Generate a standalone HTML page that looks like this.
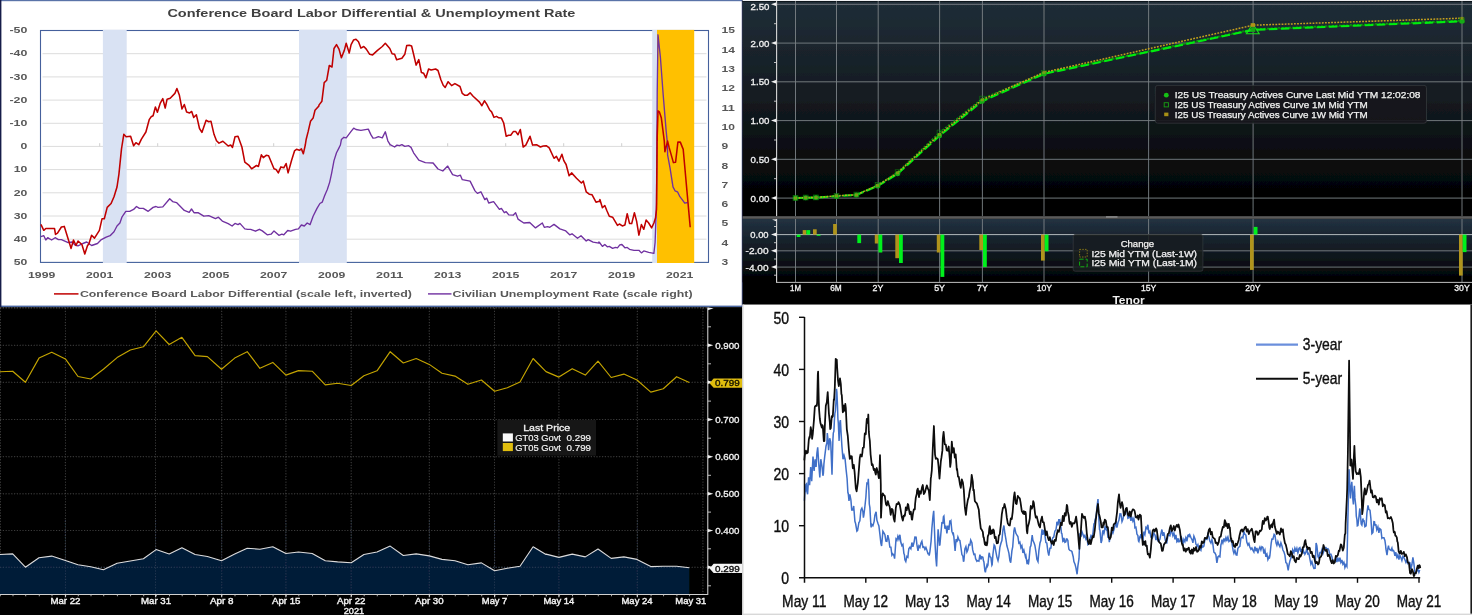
<!DOCTYPE html>
<html><head><meta charset="utf-8"><title>charts</title>
<style>
html,body{margin:0;padding:0;background:#fff;}
body{width:1472px;height:615px;overflow:hidden;font-family:"Liberation Sans",sans-serif;}
svg{display:block;position:absolute;left:0;top:0;}
text{font-family:"Liberation Sans",sans-serif;}
</style></head><body>
<svg width="1472" height="615" viewBox="0 0 1472 615">
<defs>
<linearGradient id="g2a" x1="0" y1="0" x2="0" y2="1"><stop offset="0" stop-color="#202e38"/><stop offset="0.45" stop-color="#141b21"/><stop offset="0.85" stop-color="#050607"/><stop offset="1" stop-color="#000"/></linearGradient>
<linearGradient id="g2b" x1="0" y1="0" x2="0" y2="1"><stop offset="0" stop-color="#223241"/><stop offset="0.5" stop-color="#121a22"/><stop offset="1" stop-color="#000"/></linearGradient>
<filter id="bl" x="-2" y="-2" width="1476" height="619" filterUnits="userSpaceOnUse"><feGaussianBlur stdDeviation="0.55" edgeMode="duplicate"/></filter>
<linearGradient id="g4l" x1="0" y1="0" x2="1" y2="0"><stop offset="0" stop-color="#c8c8c8"/><stop offset="1" stop-color="#fff"/></linearGradient>
</defs>
<g filter="url(#bl)">
<rect x="-4" y="-4" width="1480" height="623" fill="#fff"/>

<g id="c1">
<rect x="0" y="0" width="743" height="307" fill="#fff"/>
<line x1="42.5" y1="53.7" x2="706.5" y2="53.7" stroke="#dcdcdc" stroke-width="1"/>
<line x1="42.5" y1="76.9" x2="706.5" y2="76.9" stroke="#dcdcdc" stroke-width="1"/>
<line x1="42.5" y1="100.1" x2="706.5" y2="100.1" stroke="#dcdcdc" stroke-width="1"/>
<line x1="42.5" y1="123.3" x2="706.5" y2="123.3" stroke="#dcdcdc" stroke-width="1"/>
<line x1="42.5" y1="146.4" x2="706.5" y2="146.4" stroke="#dcdcdc" stroke-width="1"/>
<line x1="42.5" y1="169.6" x2="706.5" y2="169.6" stroke="#dcdcdc" stroke-width="1"/>
<line x1="42.5" y1="192.8" x2="706.5" y2="192.8" stroke="#dcdcdc" stroke-width="1"/>
<line x1="42.5" y1="216.0" x2="706.5" y2="216.0" stroke="#dcdcdc" stroke-width="1"/>
<line x1="42.5" y1="239.2" x2="706.5" y2="239.2" stroke="#dcdcdc" stroke-width="1"/>
<rect x="40.5" y="30.5" width="668.0" height="231.89999999999998" fill="none" stroke="#44609c" stroke-width="1.1"/>
<line x1="99.7" y1="143.2" x2="99.7" y2="146.4" stroke="#cfcfcf" stroke-width="1"/>
<line x1="157.7" y1="143.2" x2="157.7" y2="146.4" stroke="#cfcfcf" stroke-width="1"/>
<line x1="215.7" y1="143.2" x2="215.7" y2="146.4" stroke="#cfcfcf" stroke-width="1"/>
<line x1="273.7" y1="143.2" x2="273.7" y2="146.4" stroke="#cfcfcf" stroke-width="1"/>
<line x1="331.7" y1="143.2" x2="331.7" y2="146.4" stroke="#cfcfcf" stroke-width="1"/>
<line x1="389.7" y1="143.2" x2="389.7" y2="146.4" stroke="#cfcfcf" stroke-width="1"/>
<line x1="447.7" y1="143.2" x2="447.7" y2="146.4" stroke="#cfcfcf" stroke-width="1"/>
<line x1="505.7" y1="143.2" x2="505.7" y2="146.4" stroke="#cfcfcf" stroke-width="1"/>
<line x1="563.7" y1="143.2" x2="563.7" y2="146.4" stroke="#cfcfcf" stroke-width="1"/>
<line x1="621.7" y1="143.2" x2="621.7" y2="146.4" stroke="#cfcfcf" stroke-width="1"/>
<line x1="679.7" y1="143.2" x2="679.7" y2="146.4" stroke="#cfcfcf" stroke-width="1"/>
<rect x="102.9" y="29.9" width="23.8" height="233.1" fill="#d9e2f3"/>
<rect x="299" y="29.9" width="47.8" height="233.1" fill="#d9e2f3"/>
<rect x="652.2" y="29.9" width="5.0" height="233.1" fill="#d9e2f3"/>
<rect x="657" y="29.9" width="37.2" height="233.1" fill="#ffc000"/>
<path d="M40.9,236.7 L43.8,235.7 L45.8,240.0 L47.7,237.7 L51.6,240.0 L55.1,237.7 L58.4,239.6 L61.4,239.6 L68.2,242.6 L72.1,242.0 L75.0,245.1 L78.0,245.9 L82.8,243.5 L86.7,242.0 L91.6,245.5 L97.5,243.5 L101.4,239.6 L106.2,237.1 L110.1,235.7 L114.0,231.8 L117.0,226.0 L119.9,223.0 L121.9,217.2 L125.8,211.3 L129.7,211.3 L133.6,209.4 L136.5,206.5 L139.4,208.4 L143.3,208.4 L148.2,211.3 L153.1,207.4 L156.0,206.5 L158.0,207.4 L162.8,206.9 L169.7,198.7 L172.6,201.6 L176.5,202.6 L184.3,210.4 L189.2,212.3 L191.5,209.0 L194.0,212.7 L198.0,212.7 L203.8,216.2 L208.7,215.6 L215.5,218.6 L218.4,217.2 L222.3,221.1 L228.2,223.6 L232.1,226.0 L235.0,223.4 L238.0,224.6 L239.9,223.4 L244.8,228.9 L247.7,229.3 L250.6,229.3 L255.5,231.2 L259.4,229.3 L262.3,230.9 L267.2,234.8 L271.1,234.2 L274.0,230.9 L278.9,235.3 L281.9,234.2 L283.8,234.8 L287.7,230.5 L290.6,231.2 L295.5,229.3 L298.4,228.9 L301.4,225.0 L304.3,226.0 L307.2,223.0 L310.1,224.6 L313.1,216.2 L317.0,208.4 L319.9,203.5 L322.2,202.2 L324.8,195.3 L327.3,189.5 L329.7,182.1 L331.6,173.3 L334.0,160.6 L336.5,152.8 L339.0,147.9 L340.4,145.0 L341.4,139.6 L343.9,137.3 L346.2,137.9 L351.1,131.4 L353.7,128.1 L356.0,129.5 L360.9,130.4 L368.3,129.1 L371.0,134.9 L373.0,138.2 L375.5,137.9 L378.4,136.7 L382.3,137.9 L385.3,131.8 L387.8,140.8 L390.1,144.7 L394.6,147.0 L397.0,145.1 L399.5,145.7 L401.9,144.7 L404.8,146.4 L408.7,145.7 L411.0,147.4 L413.6,152.8 L418.8,160.2 L425.3,162.6 L433.1,163.0 L438.0,169.0 L442.8,171.0 L447.7,166.1 L452.6,174.7 L457.5,176.2 L460.4,175.2 L462.3,179.7 L470.1,181.1 L475.0,190.9 L477.4,193.4 L480.9,191.8 L484.8,199.6 L486.7,198.1 L488.7,203.0 L493.6,201.6 L499.4,209.4 L501.4,208.4 L504.3,212.7 L506.2,211.7 L508.8,214.9 L513.1,215.2 L515.6,212.7 L518.0,219.1 L523.8,223.0 L529.7,222.5 L535.5,227.9 L542.3,223.0 L544.3,227.3 L547.6,226.6 L549.8,227.3 L554.0,224.4 L559.9,228.9 L565.8,230.9 L569.7,234.8 L572.0,233.8 L577.5,238.3 L581.0,235.7 L586.2,241.0 L588.2,239.6 L593.1,242.2 L598.9,243.1 L598.9,241.9 L599.5,242.5 L602.4,246.4 L604.8,244.5 L607.3,246.8 L609.3,246.4 L612.6,248.4 L615.5,247.4 L617.5,247.8 L619.8,244.9 L621.9,244.5 L624.9,247.8 L627.2,247.4 L629.5,249.3 L634.0,250.3 L638.9,250.3 L641.4,252.9 L643.8,250.9 L648.7,252.3 L653.9,253.3 L655.1,242.5 L656.5,203.5 L657.2,92.4 L658.0,34.8 L660.4,57.3 L663.3,96.3 L666.2,131.4 L667.4,143.1 L667.6,154.8 L670.1,168.4 L673.0,186.9 L675.0,190.8 L677.5,191.8 L679.9,196.7 L682.2,199.6 L684.7,203.1 L687.7,202.5" fill="none" stroke="#7030a0" stroke-width="1.35" stroke-linejoin="round"/>
<path d="M40.9,224.4 L43.8,230.3 L45.8,228.5 L54.5,228.5 L55.5,234.4 L57.5,233.2 L61.4,227.0 L64.3,226.4 L71.1,248.4 L73.5,240.0 L76.0,245.5 L78.0,241.0 L81.9,244.5 L84.8,253.9 L87.7,245.1 L88.7,244.5 L91.6,235.3 L94.5,238.1 L99.4,230.3 L102.0,218.8 L104.3,218.8 L107.2,207.4 L111.1,203.5 L114.0,196.7 L117.0,187.0 L118.9,174.3 L120.3,160.6 L121.5,148.9 L123.8,134.3 L126.1,136.7 L130.6,136.3 L133.6,145.7 L135.9,142.7 L138.8,144.7 L141.4,139.2 L145.9,132.0 L149.2,119.7 L151.1,116.8 L153.1,115.8 L155.4,107.0 L157.4,112.3 L160.3,103.1 L162.8,98.6 L165.2,108.0 L167.1,99.2 L170.2,98.2 L174.9,93.4 L176.9,88.5 L179.4,95.3 L182.0,109.0 L184.3,104.5 L186.6,111.9 L189.6,112.9 L191.7,111.5 L193.7,117.4 L196.4,114.8 L199.5,128.5 L201.9,132.4 L206.1,120.3 L208.7,121.7 L211.0,121.3 L214.0,134.3 L216.5,140.8 L219.0,143.1 L222.9,141.2 L228.2,146.0 L230.7,145.1 L232.5,147.4 L235.0,136.7 L238.0,136.3 L241.9,147.0 L244.8,162.2 L248.7,165.1 L251.6,168.8 L256.5,165.5 L258.4,166.5 L261.4,154.8 L263.3,157.7 L266.2,155.3 L268.6,155.7 L274.0,168.8 L276.0,169.4 L278.3,172.9 L280.9,166.9 L283.8,167.8 L286.1,163.5 L288.1,172.9 L291.6,160.2 L294.5,150.9 L296.5,149.3 L299.4,150.3 L301.4,148.9 L303.3,153.8 L305.3,145.0 L306.2,139.2 L308.2,131.4 L310.5,121.3 L313.1,118.1 L315.0,110.3 L318.9,106.0 L318.9,105.1 L321.9,101.2 L324.2,82.6 L326.7,80.3 L329.3,65.5 L332.0,67.0 L334.0,48.5 L336.5,44.6 L339.0,49.1 L341.4,57.7 L344.3,50.4 L346.2,43.2 L349.2,53.0 L351.1,44.6 L353.5,40.1 L356.0,39.3 L358.5,41.7 L360.9,48.1 L363.8,46.5 L366.3,49.1 L369.7,54.3 L372.6,54.9 L377.5,50.4 L382.3,46.5 L385.3,43.2 L389.8,48.5 L392.1,53.8 L394.6,54.3 L396.6,59.8 L401.9,58.2 L404.8,54.3 L406.7,45.6 L409.3,45.2 L411.6,46.0 L413.6,54.3 L416.1,65.1 L418.8,59.6 L421.4,72.5 L423.7,73.3 L425.9,77.8 L428.6,69.0 L431.1,70.0 L435.6,69.0 L438.0,70.5 L440.9,79.7 L443.2,85.2 L445.2,87.5 L448.1,81.7 L451.6,85.6 L454.9,83.6 L460.0,86.5 L462.3,93.4 L464.9,95.3 L467.2,95.3 L470.1,92.8 L473.1,96.3 L479.5,102.1 L481.9,105.7 L484.4,100.8 L486.7,104.1 L489.7,110.0 L491.6,111.9 L494.0,117.4 L496.5,116.4 L498.8,117.8 L501.4,118.1 L503.7,123.0 L506.2,136.3 L508.6,135.3 L510.7,135.3 L513.5,131.4 L515.6,131.4 L518.0,134.7 L520.3,129.5 L523.2,147.0 L525.8,145.1 L530.0,136.3 L532.6,145.1 L536.5,144.7 L540.4,147.0 L543.3,146.0 L546.2,145.7 L549.2,147.9 L554.0,158.3 L556.4,156.3 L558.9,161.2 L561.9,154.2 L563.8,160.6 L566.1,164.5 L569.1,175.8 L571.6,172.9 L576.5,178.2 L581.4,183.0 L583.3,181.1 L586.2,191.8 L589.2,194.2 L592.1,194.8 L596.0,202.2 L599.9,201.0 L599.9,201.6 L599.9,201.2 L599.9,199.6 L602.4,207.8 L604.8,205.5 L606.7,210.3 L609.3,216.2 L612.6,217.2 L617.5,225.4 L619.4,224.0 L622.3,225.9 L624.9,225.0 L627.2,213.7 L629.5,223.4 L631.7,223.6 L634.4,212.7 L636.6,221.1 L638.9,235.1 L641.4,224.6 L643.8,229.3 L646.1,220.1 L648.7,223.0 L651.6,227.9 L653.9,223.0 L655.5,218.1 L656.5,209.4 L657.2,137.2 L658.0,110.9 L659.4,111.9 L661.3,117.7 L664.3,141.1 L664.9,151.8 L667.6,141.1 L669.1,147.4 L673.4,162.6 L675.6,162.2 L677.9,142.1 L680.3,142.1 L682.4,147.4 L683.2,149.3 L690.2,227.3" fill="none" stroke="#c00000" stroke-width="1.55" stroke-linejoin="round"/>
<text x="27.3" y="33.2" font-size="8.6" fill="#595959" text-anchor="end" font-weight="bold" textLength="17.9" lengthAdjust="spacingAndGlyphs" >-50</text>
<text x="27.3" y="56.4" font-size="8.6" fill="#595959" text-anchor="end" font-weight="bold" textLength="17.9" lengthAdjust="spacingAndGlyphs" >-40</text>
<text x="27.3" y="79.6" font-size="8.6" fill="#595959" text-anchor="end" font-weight="bold" textLength="17.9" lengthAdjust="spacingAndGlyphs" >-30</text>
<text x="27.3" y="102.8" font-size="8.6" fill="#595959" text-anchor="end" font-weight="bold" textLength="17.9" lengthAdjust="spacingAndGlyphs" >-20</text>
<text x="27.3" y="126.0" font-size="8.6" fill="#595959" text-anchor="end" font-weight="bold" textLength="17.9" lengthAdjust="spacingAndGlyphs" >-10</text>
<text x="27.3" y="149.1" font-size="8.6" fill="#595959" text-anchor="end" font-weight="bold" textLength="6.8" lengthAdjust="spacingAndGlyphs" >0</text>
<text x="27.3" y="172.3" font-size="8.6" fill="#595959" text-anchor="end" font-weight="bold" textLength="13.6" lengthAdjust="spacingAndGlyphs" >10</text>
<text x="27.3" y="195.5" font-size="8.6" fill="#595959" text-anchor="end" font-weight="bold" textLength="13.6" lengthAdjust="spacingAndGlyphs" >20</text>
<text x="27.3" y="218.7" font-size="8.6" fill="#595959" text-anchor="end" font-weight="bold" textLength="13.6" lengthAdjust="spacingAndGlyphs" >30</text>
<text x="27.3" y="241.9" font-size="8.6" fill="#595959" text-anchor="end" font-weight="bold" textLength="13.6" lengthAdjust="spacingAndGlyphs" >40</text>
<text x="27.3" y="265.1" font-size="8.6" fill="#595959" text-anchor="end" font-weight="bold" textLength="13.6" lengthAdjust="spacingAndGlyphs" >50</text>
<text x="721.5" y="33.2" font-size="8.6" fill="#595959" text-anchor="start" font-weight="bold" textLength="13.4" lengthAdjust="spacingAndGlyphs" >15</text>
<text x="721.5" y="52.5" font-size="8.6" fill="#595959" text-anchor="start" font-weight="bold" textLength="13.4" lengthAdjust="spacingAndGlyphs" >14</text>
<text x="721.5" y="71.9" font-size="8.6" fill="#595959" text-anchor="start" font-weight="bold" textLength="13.4" lengthAdjust="spacingAndGlyphs" >13</text>
<text x="721.5" y="91.2" font-size="8.6" fill="#595959" text-anchor="start" font-weight="bold" textLength="13.4" lengthAdjust="spacingAndGlyphs" >12</text>
<text x="721.5" y="110.5" font-size="8.6" fill="#595959" text-anchor="start" font-weight="bold" textLength="13.4" lengthAdjust="spacingAndGlyphs" >11</text>
<text x="721.5" y="129.8" font-size="8.6" fill="#595959" text-anchor="start" font-weight="bold" textLength="13.4" lengthAdjust="spacingAndGlyphs" >10</text>
<text x="721.5" y="149.1" font-size="8.6" fill="#595959" text-anchor="start" font-weight="bold" textLength="6.7" lengthAdjust="spacingAndGlyphs" >9</text>
<text x="721.5" y="168.5" font-size="8.6" fill="#595959" text-anchor="start" font-weight="bold" textLength="6.7" lengthAdjust="spacingAndGlyphs" >8</text>
<text x="721.5" y="187.8" font-size="8.6" fill="#595959" text-anchor="start" font-weight="bold" textLength="6.7" lengthAdjust="spacingAndGlyphs" >7</text>
<text x="721.5" y="207.1" font-size="8.6" fill="#595959" text-anchor="start" font-weight="bold" textLength="6.7" lengthAdjust="spacingAndGlyphs" >6</text>
<text x="721.5" y="226.4" font-size="8.6" fill="#595959" text-anchor="start" font-weight="bold" textLength="6.7" lengthAdjust="spacingAndGlyphs" >5</text>
<text x="721.5" y="245.8" font-size="8.6" fill="#595959" text-anchor="start" font-weight="bold" textLength="6.7" lengthAdjust="spacingAndGlyphs" >4</text>
<text x="721.5" y="265.1" font-size="8.6" fill="#595959" text-anchor="start" font-weight="bold" textLength="6.7" lengthAdjust="spacingAndGlyphs" >3</text>
<text x="41.7" y="278.0" font-size="8.6" fill="#595959" text-anchor="middle" font-weight="bold" textLength="27.3" lengthAdjust="spacingAndGlyphs" >1999</text>
<text x="99.7" y="278.0" font-size="8.6" fill="#595959" text-anchor="middle" font-weight="bold" textLength="27.3" lengthAdjust="spacingAndGlyphs" >2001</text>
<text x="157.7" y="278.0" font-size="8.6" fill="#595959" text-anchor="middle" font-weight="bold" textLength="27.3" lengthAdjust="spacingAndGlyphs" >2003</text>
<text x="215.7" y="278.0" font-size="8.6" fill="#595959" text-anchor="middle" font-weight="bold" textLength="27.3" lengthAdjust="spacingAndGlyphs" >2005</text>
<text x="273.7" y="278.0" font-size="8.6" fill="#595959" text-anchor="middle" font-weight="bold" textLength="27.3" lengthAdjust="spacingAndGlyphs" >2007</text>
<text x="331.7" y="278.0" font-size="8.6" fill="#595959" text-anchor="middle" font-weight="bold" textLength="27.3" lengthAdjust="spacingAndGlyphs" >2009</text>
<text x="389.7" y="278.0" font-size="8.6" fill="#595959" text-anchor="middle" font-weight="bold" textLength="27.3" lengthAdjust="spacingAndGlyphs" >2011</text>
<text x="447.7" y="278.0" font-size="8.6" fill="#595959" text-anchor="middle" font-weight="bold" textLength="27.3" lengthAdjust="spacingAndGlyphs" >2013</text>
<text x="505.7" y="278.0" font-size="8.6" fill="#595959" text-anchor="middle" font-weight="bold" textLength="27.3" lengthAdjust="spacingAndGlyphs" >2015</text>
<text x="563.7" y="278.0" font-size="8.6" fill="#595959" text-anchor="middle" font-weight="bold" textLength="27.3" lengthAdjust="spacingAndGlyphs" >2017</text>
<text x="621.7" y="278.0" font-size="8.6" fill="#595959" text-anchor="middle" font-weight="bold" textLength="27.3" lengthAdjust="spacingAndGlyphs" >2019</text>
<text x="679.7" y="278.0" font-size="8.6" fill="#595959" text-anchor="middle" font-weight="bold" textLength="27.3" lengthAdjust="spacingAndGlyphs" >2021</text>
<text x="371.4" y="16.9" font-size="10.6" fill="#404040" text-anchor="middle" font-weight="bold" textLength="408.0" lengthAdjust="spacingAndGlyphs" >Conference Board Labor Differential &amp; Unemployment Rate</text>
<line x1="54" y1="293.9" x2="78.5" y2="293.9" stroke="#c00000" stroke-width="1.5"/>
<text x="79.9" y="296.5" font-size="8.8" fill="#595959" text-anchor="start" font-weight="bold" textLength="332.0" lengthAdjust="spacingAndGlyphs" >Conference Board Labor Differential (scale left, inverted)</text>
<line x1="428" y1="293.9" x2="451.5" y2="293.9" stroke="#7030a0" stroke-width="1.4"/>
<text x="452.6" y="296.5" font-size="8.8" fill="#595959" text-anchor="start" font-weight="bold" textLength="240.0" lengthAdjust="spacingAndGlyphs" >Civilian Unemployment Rate (scale right)</text>
<rect x="0" y="0" width="742.5" height="1.2" fill="#5a73a8"/>
<rect x="0" y="305.6" width="742.5" height="1.4" fill="#4a659f"/>
<rect x="0" y="0" width="1.4" height="307" fill="#141c4a"/>
<rect x="741.8" y="0" width="1.0" height="307" fill="#1c2a6a"/>
</g>
<g id="c2">
<rect x="742.6" y="0" width="729.4" height="304.9" fill="#000"/>
<rect x="742.6" y="0" width="729.4" height="216.4" fill="url(#g2a)"/>
<rect x="742.6" y="218.8" width="729.4" height="63.5" fill="url(#g2b)"/>
<rect x="742.6" y="0" width="729.4" height="1.0" fill="#eef0f2"/>
<rect x="742.6" y="1.0" width="729.4" height="0.8" fill="#0c1216"/>
<line x1="795.5" y1="1" x2="795.5" y2="216.2" stroke="#7a8186" stroke-width="0.9"/>
<line x1="795.5" y1="218.8" x2="795.5" y2="282" stroke="#7a8186" stroke-width="0.9"/>
<line x1="836.5" y1="1" x2="836.5" y2="216.2" stroke="#7a8186" stroke-width="0.9"/>
<line x1="836.5" y1="218.8" x2="836.5" y2="282" stroke="#7a8186" stroke-width="0.9"/>
<line x1="878.2" y1="1" x2="878.2" y2="216.2" stroke="#7a8186" stroke-width="0.9"/>
<line x1="878.2" y1="218.8" x2="878.2" y2="282" stroke="#7a8186" stroke-width="0.9"/>
<line x1="939.6" y1="1" x2="939.6" y2="216.2" stroke="#7a8186" stroke-width="0.9"/>
<line x1="939.6" y1="218.8" x2="939.6" y2="282" stroke="#7a8186" stroke-width="0.9"/>
<line x1="982.4" y1="1" x2="982.4" y2="216.2" stroke="#7a8186" stroke-width="0.9"/>
<line x1="982.4" y1="218.8" x2="982.4" y2="282" stroke="#7a8186" stroke-width="0.9"/>
<line x1="1044.0" y1="1" x2="1044.0" y2="216.2" stroke="#7a8186" stroke-width="0.9"/>
<line x1="1044.0" y1="218.8" x2="1044.0" y2="282" stroke="#7a8186" stroke-width="0.9"/>
<line x1="1148.6" y1="1" x2="1148.6" y2="216.2" stroke="#7a8186" stroke-width="0.9"/>
<line x1="1148.6" y1="218.8" x2="1148.6" y2="282" stroke="#7a8186" stroke-width="0.9"/>
<line x1="1253.1" y1="1" x2="1253.1" y2="216.2" stroke="#7a8186" stroke-width="0.9"/>
<line x1="1253.1" y1="218.8" x2="1253.1" y2="282" stroke="#7a8186" stroke-width="0.9"/>
<line x1="1462.0" y1="1" x2="1462.0" y2="216.2" stroke="#7a8186" stroke-width="0.9"/>
<line x1="1462.0" y1="218.8" x2="1462.0" y2="282" stroke="#7a8186" stroke-width="0.9"/>
<line x1="776.6" y1="198.1" x2="1472" y2="198.1" stroke="#7a8186" stroke-width="0.9"/>
<path d="M771.0,198.1 L776.6,196.1 L776.6,200.1 Z" fill="#f0f0f0"/>
<text x="769.4" y="201.7" font-size="8.8" fill="#f0f0f0" text-anchor="end" font-weight="normal" textLength="18.8" lengthAdjust="spacingAndGlyphs" stroke="#f0f0f0" stroke-width="0.3">0.00</text>
<line x1="774.0" y1="178.7" x2="776.6" y2="178.7" stroke="#cfcfcf" stroke-width="0.9"/>
<line x1="776.6" y1="159.3" x2="1472" y2="159.3" stroke="#7a8186" stroke-width="0.9"/>
<path d="M771.0,159.3 L776.6,157.3 L776.6,161.3 Z" fill="#f0f0f0"/>
<text x="769.4" y="162.9" font-size="8.8" fill="#f0f0f0" text-anchor="end" font-weight="normal" textLength="18.8" lengthAdjust="spacingAndGlyphs" stroke="#f0f0f0" stroke-width="0.3">0.50</text>
<line x1="774.0" y1="140.0" x2="776.6" y2="140.0" stroke="#cfcfcf" stroke-width="0.9"/>
<line x1="776.6" y1="120.6" x2="1472" y2="120.6" stroke="#7a8186" stroke-width="0.9"/>
<path d="M771.0,120.6 L776.6,118.6 L776.6,122.6 Z" fill="#f0f0f0"/>
<text x="769.4" y="124.2" font-size="8.8" fill="#f0f0f0" text-anchor="end" font-weight="normal" textLength="18.8" lengthAdjust="spacingAndGlyphs" stroke="#f0f0f0" stroke-width="0.3">1.00</text>
<line x1="774.0" y1="101.2" x2="776.6" y2="101.2" stroke="#cfcfcf" stroke-width="0.9"/>
<line x1="776.6" y1="81.8" x2="1472" y2="81.8" stroke="#7a8186" stroke-width="0.9"/>
<path d="M771.0,81.8 L776.6,79.8 L776.6,83.8 Z" fill="#f0f0f0"/>
<text x="769.4" y="85.4" font-size="8.8" fill="#f0f0f0" text-anchor="end" font-weight="normal" textLength="18.8" lengthAdjust="spacingAndGlyphs" stroke="#f0f0f0" stroke-width="0.3">1.50</text>
<line x1="774.0" y1="62.5" x2="776.6" y2="62.5" stroke="#cfcfcf" stroke-width="0.9"/>
<line x1="776.6" y1="43.1" x2="1472" y2="43.1" stroke="#7a8186" stroke-width="0.9"/>
<path d="M771.0,43.1 L776.6,41.1 L776.6,45.1 Z" fill="#f0f0f0"/>
<text x="769.4" y="46.7" font-size="8.8" fill="#f0f0f0" text-anchor="end" font-weight="normal" textLength="18.8" lengthAdjust="spacingAndGlyphs" stroke="#f0f0f0" stroke-width="0.3">2.00</text>
<line x1="774.0" y1="23.7" x2="776.6" y2="23.7" stroke="#cfcfcf" stroke-width="0.9"/>
<line x1="776.6" y1="4.3" x2="1472" y2="4.3" stroke="#7a8186" stroke-width="0.9"/>
<path d="M771.0,4.3 L776.6,2.3 L776.6,6.3 Z" fill="#f0f0f0"/>
<text x="769.4" y="10.2" font-size="8.8" fill="#f0f0f0" text-anchor="end" font-weight="normal" textLength="18.8" lengthAdjust="spacingAndGlyphs" stroke="#f0f0f0" stroke-width="0.3">2.50</text>
<line x1="774.0" y1="217.5" x2="776.6" y2="217.5" stroke="#cfcfcf" stroke-width="0.9"/>
<line x1="776.6" y1="1" x2="776.6" y2="216.2" stroke="#d8d8d8" stroke-width="1.1"/>
<line x1="776.6" y1="218.8" x2="776.6" y2="282.4" stroke="#d8d8d8" stroke-width="1.1"/>
<line x1="776.1" y1="282.4" x2="1472" y2="282.4" stroke="#c8c8c8" stroke-width="0.95"/>
<rect x="742.6" y="216.2" width="729.4" height="2.6" fill="#5a5a5a"/>
<rect x="1106" y="216.2" width="11.5" height="1.5" fill="#8c8c8c"/>
<line x1="776.6" y1="234.6" x2="1472" y2="234.6" stroke="#c4c8cc" stroke-width="0.9"/>
<path d="M771.0,234.6 L776.6,232.6 L776.6,236.6 Z" fill="#f0f0f0"/>
<text x="768.6" y="238.1" font-size="8.8" fill="#f0f0f0" text-anchor="end" font-weight="normal" textLength="18.3" lengthAdjust="spacingAndGlyphs" stroke="#f0f0f0" stroke-width="0.3">0.00</text>
<line x1="776.6" y1="250.8" x2="1472" y2="250.8" stroke="#7a8186" stroke-width="0.9"/>
<path d="M771.0,250.8 L776.6,248.8 L776.6,252.8 Z" fill="#f0f0f0"/>
<text x="768.6" y="254.3" font-size="8.8" fill="#f0f0f0" text-anchor="end" font-weight="normal" textLength="23.0" lengthAdjust="spacingAndGlyphs" stroke="#f0f0f0" stroke-width="0.3">-2.00</text>
<line x1="776.6" y1="267.1" x2="1472" y2="267.1" stroke="#7a8186" stroke-width="0.9"/>
<path d="M771.0,267.1 L776.6,265.1 L776.6,269.1 Z" fill="#f0f0f0"/>
<text x="768.6" y="270.6" font-size="8.8" fill="#f0f0f0" text-anchor="end" font-weight="normal" textLength="23.0" lengthAdjust="spacingAndGlyphs" stroke="#f0f0f0" stroke-width="0.3">-4.00</text>
<line x1="774.0" y1="226.5" x2="776.6" y2="226.5" stroke="#cfcfcf" stroke-width="0.9"/>
<line x1="774.0" y1="242.7" x2="776.6" y2="242.7" stroke="#cfcfcf" stroke-width="0.9"/>
<line x1="774.0" y1="259.0" x2="776.6" y2="259.0" stroke="#cfcfcf" stroke-width="0.9"/>
<line x1="774.0" y1="275.2" x2="776.6" y2="275.2" stroke="#cfcfcf" stroke-width="0.9"/>
<path d="M772.0,219.6 L776.6,219.2 L776.6,221.4 Z" fill="#e8e8e8"/>
<rect x="796.7" y="234.6" width="3.8" height="2.4" fill="#00f01e"/>
<rect x="802.7" y="230.1" width="3.7" height="4.5" fill="#b0941a"/>
<rect x="806.4" y="230.1" width="3.8" height="4.5" fill="#00f01e"/>
<rect x="813.0" y="229.3" width="3.7" height="5.3" fill="#b0941a"/>
<rect x="816.7" y="234.6" width="3.8" height="1.2" fill="#00f01e"/>
<rect x="833.1" y="224.0" width="3.7" height="10.6" fill="#b0941a"/>
<rect x="857.3" y="234.6" width="3.8" height="8.5" fill="#00f01e"/>
<rect x="874.8" y="234.6" width="3.7" height="8.9" fill="#b0941a"/>
<rect x="878.5" y="234.6" width="3.8" height="17.9" fill="#00f01e"/>
<rect x="895.3" y="234.6" width="3.7" height="23.6" fill="#b0941a"/>
<rect x="899.0" y="234.6" width="3.8" height="28.4" fill="#00f01e"/>
<rect x="936.8" y="234.6" width="3.7" height="17.9" fill="#b0941a"/>
<rect x="940.5" y="234.6" width="3.8" height="42.3" fill="#00f01e"/>
<rect x="979.3" y="234.6" width="3.7" height="15.4" fill="#b0941a"/>
<rect x="983.0" y="234.6" width="3.8" height="32.5" fill="#00f01e"/>
<rect x="1041.0" y="234.6" width="3.7" height="26.0" fill="#b0941a"/>
<rect x="1044.7" y="234.6" width="3.8" height="16.7" fill="#00f01e"/>
<rect x="1250.0" y="234.6" width="3.7" height="35.3" fill="#b0941a"/>
<rect x="1253.7" y="226.9" width="3.8" height="7.7" fill="#00f01e"/>
<rect x="1459.0" y="234.6" width="3.7" height="41.0" fill="#b0941a"/>
<rect x="1462.7" y="234.6" width="3.8" height="17.5" fill="#00f01e"/>
<path d="M795.5,198.0 L805.7,197.5 L816.0,197.4 L836.5,196.0 L856.4,194.6 L877.6,185.0 L897.6,172.2 L939.5,132.5 L982.2,98.6 L1043.9,73.0 L1253.2,29.0 L1462.0,20.3" fill="none" stroke="#0aa00a" stroke-width="1.3" stroke-dasharray="2.2,1.4"/>
<path d="M795.5,198.0 L805.7,197.7 L816.0,197.6 L836.5,196.2 L856.4,195.0 L877.6,186.0 L897.6,173.8 L939.5,135.8 L982.2,101.2 L1043.9,73.9 L1253.2,29.9 L1462.0,21.3" fill="none" stroke="#0a8c0a" stroke-width="0.9"/>
<path d="M795.5,198.0 L805.7,197.7 L816.0,197.6 L836.5,196.2 L856.4,195.0 L877.6,186.0 L897.6,173.8 L939.5,135.8 L982.2,101.2 L1043.9,73.9 L1253.2,29.9 L1462.0,21.3" fill="none" stroke="#00ee10" stroke-width="2.1" stroke-dasharray="8.5,3.5"/>
<path d="M795.5,198.0 L805.7,197.6 L816.0,197.5 L836.5,195.8 L856.4,194.8 L877.6,185.4 L897.6,172.8 L939.5,134.4 L982.2,99.8 L1043.9,72.4 L1253.2,25.2 L1462.0,18.2" fill="none" stroke="#c4a01e" stroke-width="1.5" stroke-dasharray="1.8,1.3"/>
<rect x="793.1" y="195.6" width="4.8" height="4.8" fill="none" stroke="#0c8a0c" stroke-width="0.7" opacity="0.8"/>
<circle cx="795.5" cy="198" r="2.5" fill="#14ac14"/>
<rect x="793.9" y="196.7" width="3.2" height="2.8" fill="#8e9a14" opacity="0.8"/>
<rect x="803.3000000000001" y="195.1" width="4.8" height="4.8" fill="none" stroke="#0c8a0c" stroke-width="0.7" opacity="0.8"/>
<circle cx="805.7" cy="197.7" r="2.5" fill="#14ac14"/>
<rect x="804.1" y="196.3" width="3.2" height="2.8" fill="#8e9a14" opacity="0.8"/>
<rect x="813.6" y="195.0" width="4.8" height="4.8" fill="none" stroke="#0c8a0c" stroke-width="0.7" opacity="0.8"/>
<circle cx="816" cy="197.6" r="2.5" fill="#14ac14"/>
<rect x="814.4" y="196.2" width="3.2" height="2.8" fill="#8e9a14" opacity="0.8"/>
<rect x="834.1" y="193.6" width="4.8" height="4.8" fill="none" stroke="#0c8a0c" stroke-width="0.7" opacity="0.8"/>
<circle cx="836.5" cy="196.2" r="2.5" fill="#14ac14"/>
<rect x="834.9" y="194.5" width="3.2" height="2.8" fill="#8e9a14" opacity="0.8"/>
<rect x="854.0" y="192.2" width="4.8" height="4.8" fill="none" stroke="#0c8a0c" stroke-width="0.7" opacity="0.8"/>
<circle cx="856.4" cy="195.0" r="2.5" fill="#14ac14"/>
<rect x="854.8" y="193.5" width="3.2" height="2.8" fill="#8e9a14" opacity="0.8"/>
<rect x="875.2" y="182.6" width="4.8" height="4.8" fill="none" stroke="#0c8a0c" stroke-width="0.7" opacity="0.8"/>
<circle cx="877.6" cy="186.0" r="2.5" fill="#14ac14"/>
<rect x="876.0" y="184.1" width="3.2" height="2.8" fill="#8e9a14" opacity="0.8"/>
<rect x="895.2" y="169.8" width="4.8" height="4.8" fill="none" stroke="#0c8a0c" stroke-width="0.7" opacity="0.8"/>
<circle cx="897.6" cy="173.8" r="2.5" fill="#14ac14"/>
<rect x="896.0" y="171.5" width="3.2" height="2.8" fill="#8e9a14" opacity="0.8"/>
<rect x="937.1" y="130.1" width="4.8" height="4.8" fill="none" stroke="#0c8a0c" stroke-width="0.7" opacity="0.8"/>
<circle cx="939.5" cy="135.8" r="2.5" fill="#14ac14"/>
<rect x="937.9" y="133.1" width="3.2" height="2.8" fill="#8e9a14" opacity="0.8"/>
<rect x="979.8000000000001" y="96.2" width="4.8" height="4.8" fill="none" stroke="#0c8a0c" stroke-width="0.7" opacity="0.8"/>
<circle cx="982.2" cy="101.2" r="2.5" fill="#14ac14"/>
<rect x="980.6" y="98.5" width="3.2" height="2.8" fill="#8e9a14" opacity="0.8"/>
<rect x="1041.5" y="70.6" width="4.8" height="4.8" fill="none" stroke="#0c8a0c" stroke-width="0.7" opacity="0.8"/>
<circle cx="1043.9" cy="73.9" r="2.5" fill="#14ac14"/>
<rect x="1042.3000000000002" y="71.1" width="3.2" height="2.8" fill="#8e9a14" opacity="0.8"/>
<path d="M1252.8,23.7 L1259.2,33.8 L1246.4,33.8 Z" fill="none" stroke="#18e018" stroke-width="1.1"/>
<rect x="1250.6000000000001" y="27.3" width="4.6" height="4.6" fill="#12a812"/>
<rect x="1250.6000000000001" y="23.2" width="4.4" height="3.6" fill="#b09418"/>
<rect x="1459.6" y="17.9" width="4.8" height="4.8" fill="none" stroke="#0c8a0c" stroke-width="0.7" opacity="0.8"/>
<circle cx="1462" cy="21.3" r="2.5" fill="#14ac14"/>
<rect x="1460.4" y="16.9" width="3.2" height="2.8" fill="#8e9a14" opacity="0.8"/>
<rect x="1155.3" y="85.4" width="271.2" height="37.8" rx="2.5" fill="#15181a" fill-opacity="0.93" stroke="#33383c" stroke-width="0.8"/>
<circle cx="1166.3" cy="95.2" r="2.4" fill="#12c012"/>
<rect x="1164.2" y="102.7" width="4.2" height="4.2" fill="none" stroke="#12a012" stroke-width="0.9"/>
<rect x="1164.2" y="112.6" width="4.2" height="3.6" fill="#a88f18"/>
<text x="1174.8" y="98.4" font-size="8.9" fill="#f2f2f2" text-anchor="start" font-weight="normal" textLength="245.7" lengthAdjust="spacingAndGlyphs" stroke="#f2f2f2" stroke-width="0.25">I25 US Treasury Actives Curve Last Mid YTM 12:02:08</text>
<text x="1174.8" y="108.1" font-size="8.9" fill="#f2f2f2" text-anchor="start" font-weight="normal" textLength="193.0" lengthAdjust="spacingAndGlyphs" stroke="#f2f2f2" stroke-width="0.25">I25 US Treasury Actives Curve 1M Mid YTM</text>
<text x="1174.8" y="117.9" font-size="8.9" fill="#f2f2f2" text-anchor="start" font-weight="normal" textLength="193.0" lengthAdjust="spacingAndGlyphs" stroke="#f2f2f2" stroke-width="0.25">I25 US Treasury Actives Curve 1W Mid YTM</text>
<rect x="1073.2" y="234.6" width="129.7" height="36.6" rx="2" fill="#1a1d20" fill-opacity="0.86" stroke="#33383c" stroke-width="0.8"/>
<text x="1137.4" y="247.3" font-size="8.9" fill="#f2f2f2" text-anchor="middle" font-weight="normal" textLength="33.5" lengthAdjust="spacingAndGlyphs" stroke="#f2f2f2" stroke-width="0.25">Change</text>
<rect x="1079.6" y="249.4" width="7.6" height="7.6" fill="none" stroke="#8a7a1a" stroke-width="0.9" stroke-dasharray="1.5,1.2"/>
<rect x="1079.6" y="259.2" width="7.6" height="7.6" fill="none" stroke="#10c010" stroke-width="0.9" stroke-dasharray="4,2"/>
<text x="1091.4" y="256.7" font-size="8.9" fill="#f2f2f2" text-anchor="start" font-weight="normal" textLength="105.6" lengthAdjust="spacingAndGlyphs" stroke="#f2f2f2" stroke-width="0.25">I25 Mid YTM (Last-1W)</text>
<text x="1091.4" y="266.4" font-size="8.9" fill="#f2f2f2" text-anchor="start" font-weight="normal" textLength="105.6" lengthAdjust="spacingAndGlyphs" stroke="#f2f2f2" stroke-width="0.25">I25 Mid YTM (Last-1M)</text>
<text x="795.5" y="291.1" font-size="8.8" fill="#f4f4f4" text-anchor="middle" font-weight="normal" textLength="11.0" lengthAdjust="spacingAndGlyphs" stroke="#f4f4f4" stroke-width="0.3">1M</text>
<text x="836.0" y="291.1" font-size="8.8" fill="#f4f4f4" text-anchor="middle" font-weight="normal" textLength="11.5" lengthAdjust="spacingAndGlyphs" stroke="#f4f4f4" stroke-width="0.3">6M</text>
<text x="878.0" y="291.1" font-size="8.8" fill="#f4f4f4" text-anchor="middle" font-weight="normal" textLength="10.8" lengthAdjust="spacingAndGlyphs" stroke="#f4f4f4" stroke-width="0.3">2Y</text>
<text x="939.6" y="291.1" font-size="8.8" fill="#f4f4f4" text-anchor="middle" font-weight="normal" textLength="10.8" lengthAdjust="spacingAndGlyphs" stroke="#f4f4f4" stroke-width="0.3">5Y</text>
<text x="982.4" y="291.1" font-size="8.8" fill="#f4f4f4" text-anchor="middle" font-weight="normal" textLength="10.8" lengthAdjust="spacingAndGlyphs" stroke="#f4f4f4" stroke-width="0.3">7Y</text>
<text x="1044.4" y="291.1" font-size="8.8" fill="#f4f4f4" text-anchor="middle" font-weight="normal" textLength="15.4" lengthAdjust="spacingAndGlyphs" stroke="#f4f4f4" stroke-width="0.3">10Y</text>
<text x="1148.6" y="291.1" font-size="8.8" fill="#f4f4f4" text-anchor="middle" font-weight="normal" textLength="15.4" lengthAdjust="spacingAndGlyphs" stroke="#f4f4f4" stroke-width="0.3">15Y</text>
<text x="1252.9" y="291.1" font-size="8.8" fill="#f4f4f4" text-anchor="middle" font-weight="normal" textLength="15.4" lengthAdjust="spacingAndGlyphs" stroke="#f4f4f4" stroke-width="0.3">20Y</text>
<text x="1462.0" y="291.1" font-size="8.8" fill="#f4f4f4" text-anchor="middle" font-weight="normal" textLength="15.4" lengthAdjust="spacingAndGlyphs" stroke="#f4f4f4" stroke-width="0.3">30Y</text>
<text x="1128.6" y="303.5" font-size="10.2" fill="#f0f0f0" text-anchor="middle" font-weight="bold" textLength="32.3" lengthAdjust="spacingAndGlyphs" >Tenor</text>
</g>
<g id="c3">
<rect x="0" y="307.1" width="742.4" height="308" fill="#000"/>
<line x1="0" y1="345.3" x2="707.8" y2="345.3" stroke="#4a4a4a" stroke-width="0.9" stroke-dasharray="1.2,1.6"/>
<line x1="0" y1="382.3" x2="707.8" y2="382.3" stroke="#4a4a4a" stroke-width="0.9" stroke-dasharray="1.2,1.6"/>
<line x1="0" y1="419.6" x2="707.8" y2="419.6" stroke="#4a4a4a" stroke-width="0.9" stroke-dasharray="1.2,1.6"/>
<line x1="0" y1="456.7" x2="707.8" y2="456.7" stroke="#4a4a4a" stroke-width="0.9" stroke-dasharray="1.2,1.6"/>
<line x1="0" y1="493.8" x2="707.8" y2="493.8" stroke="#4a4a4a" stroke-width="0.9" stroke-dasharray="1.2,1.6"/>
<line x1="0" y1="530.6" x2="707.8" y2="530.6" stroke="#4a4a4a" stroke-width="0.9" stroke-dasharray="1.2,1.6"/>
<line x1="0" y1="567.3" x2="707.8" y2="567.3" stroke="#4a4a4a" stroke-width="0.9" stroke-dasharray="1.2,1.6"/>
<line x1="0" y1="307.9" x2="707.8" y2="307.9" stroke="#6a6a6a" stroke-width="0.9" stroke-dasharray="1.2,1.6"/>
<line x1="0.6" y1="308" x2="0.6" y2="594.5" stroke="#4a4a4a" stroke-width="0.9" stroke-dasharray="1.2,1.6"/>
<line x1="65.4" y1="308" x2="65.4" y2="594.5" stroke="#4a4a4a" stroke-width="0.9" stroke-dasharray="1.2,1.6"/>
<line x1="155.6" y1="308" x2="155.6" y2="594.5" stroke="#4a4a4a" stroke-width="0.9" stroke-dasharray="1.2,1.6"/>
<line x1="221.7" y1="308" x2="221.7" y2="594.5" stroke="#4a4a4a" stroke-width="0.9" stroke-dasharray="1.2,1.6"/>
<line x1="285.9" y1="308" x2="285.9" y2="594.5" stroke="#4a4a4a" stroke-width="0.9" stroke-dasharray="1.2,1.6"/>
<line x1="351.2" y1="308" x2="351.2" y2="594.5" stroke="#4a4a4a" stroke-width="0.9" stroke-dasharray="1.2,1.6"/>
<line x1="429.3" y1="308" x2="429.3" y2="594.5" stroke="#4a4a4a" stroke-width="0.9" stroke-dasharray="1.2,1.6"/>
<line x1="494.6" y1="308" x2="494.6" y2="594.5" stroke="#4a4a4a" stroke-width="0.9" stroke-dasharray="1.2,1.6"/>
<line x1="558.9" y1="308" x2="558.9" y2="594.5" stroke="#4a4a4a" stroke-width="0.9" stroke-dasharray="1.2,1.6"/>
<line x1="637.3" y1="308" x2="637.3" y2="594.5" stroke="#4a4a4a" stroke-width="0.9" stroke-dasharray="1.2,1.6"/>
<line x1="702.9" y1="308" x2="702.9" y2="594.5" stroke="#4a4a4a" stroke-width="0.9" stroke-dasharray="1.2,1.6"/>
<path d="M0.0,554.5 L12.7,553.9 L25.4,567.2 L39.0,557.8 L51.7,556.1 L65.4,560.4 L78.0,564.7 L90.7,566.8 L103.4,569.7 L117.1,563.3 L130.3,561.0 L143.4,558.8 L156.1,549.6 L169.2,553.9 L181.9,547.7 L195.1,554.5 L207.4,556.5 L221.5,560.8 L234.7,554.1 L247.2,548.3 L259.9,549.2 L272.8,546.7 L285.9,553.5 L298.5,552.0 L312.2,553.5 L325.3,560.8 L337.6,561.9 L351.2,562.7 L363.9,554.5 L377.0,552.0 L390.2,546.1 L403.3,555.5 L416.2,553.9 L429.3,555.9 L442.0,559.4 L455.0,560.8 L467.9,564.7 L481.4,562.9 L494.6,570.7 L507.3,568.2 L520.0,566.2 L533.1,546.7 L546.0,554.5 L546.0,554.1 L558.9,557.4 L572.2,554.1 L585.3,556.9 L598.0,549.0 L611.2,558.4 L623.9,556.9 L637.0,559.4 L650.8,566.6 L663.3,566.2 L676.6,566.2 L689.3,567.8 L689.3,594.5 L0,594.5 Z" fill="#031b38"/>
<line x1="65.4" y1="520" x2="65.4" y2="594.5" stroke="#3a4a60" stroke-width="0.9" stroke-dasharray="1.2,1.6" opacity="0.8"/>
<line x1="155.6" y1="520" x2="155.6" y2="594.5" stroke="#3a4a60" stroke-width="0.9" stroke-dasharray="1.2,1.6" opacity="0.8"/>
<line x1="221.7" y1="520" x2="221.7" y2="594.5" stroke="#3a4a60" stroke-width="0.9" stroke-dasharray="1.2,1.6" opacity="0.8"/>
<line x1="285.9" y1="520" x2="285.9" y2="594.5" stroke="#3a4a60" stroke-width="0.9" stroke-dasharray="1.2,1.6" opacity="0.8"/>
<line x1="351.2" y1="520" x2="351.2" y2="594.5" stroke="#3a4a60" stroke-width="0.9" stroke-dasharray="1.2,1.6" opacity="0.8"/>
<line x1="429.3" y1="520" x2="429.3" y2="594.5" stroke="#3a4a60" stroke-width="0.9" stroke-dasharray="1.2,1.6" opacity="0.8"/>
<line x1="494.6" y1="520" x2="494.6" y2="594.5" stroke="#3a4a60" stroke-width="0.9" stroke-dasharray="1.2,1.6" opacity="0.8"/>
<line x1="558.9" y1="520" x2="558.9" y2="594.5" stroke="#3a4a60" stroke-width="0.9" stroke-dasharray="1.2,1.6" opacity="0.8"/>
<line x1="637.3" y1="520" x2="637.3" y2="594.5" stroke="#3a4a60" stroke-width="0.9" stroke-dasharray="1.2,1.6" opacity="0.8"/>
<line x1="0" y1="567.3" x2="689" y2="567.3" stroke="#33445c" stroke-width="0.9" stroke-dasharray="1.2,1.6"/>
<path d="M0.0,554.5 L12.7,553.9 L25.4,567.2 L39.0,557.8 L51.7,556.1 L65.4,560.4 L78.0,564.7 L90.7,566.8 L103.4,569.7 L117.1,563.3 L130.3,561.0 L143.4,558.8 L156.1,549.6 L169.2,553.9 L181.9,547.7 L195.1,554.5 L207.4,556.5 L221.5,560.8 L234.7,554.1 L247.2,548.3 L259.9,549.2 L272.8,546.7 L285.9,553.5 L298.5,552.0 L312.2,553.5 L325.3,560.8 L337.6,561.9 L351.2,562.7 L363.9,554.5 L377.0,552.0 L390.2,546.1 L403.3,555.5 L416.2,553.9 L429.3,555.9 L442.0,559.4 L455.0,560.8 L467.9,564.7 L481.4,562.9 L494.6,570.7 L507.3,568.2 L520.0,566.2 L533.1,546.7 L546.0,554.5 L546.0,554.1 L558.9,557.4 L572.2,554.1 L585.3,556.9 L598.0,549.0 L611.2,558.4 L623.9,556.9 L637.0,559.4 L650.8,566.6 L663.3,566.2 L676.6,566.2 L689.3,567.8" fill="none" stroke="#dcdcdc" stroke-width="1.1" stroke-linejoin="round"/>
<path d="M0.0,371.8 L12.7,371.2 L25.4,382.3 L39.0,358.1 L51.7,352.3 L65.4,358.9 L78.0,376.5 L90.7,379.0 L103.4,369.3 L117.1,357.6 L130.3,350.0 L143.4,346.8 L156.1,330.8 L169.2,344.5 L181.9,337.3 L195.1,355.6 L207.4,356.6 L221.5,369.3 L234.7,358.1 L247.2,351.7 L259.9,368.3 L272.8,362.4 L285.9,375.1 L298.5,370.6 L312.2,371.2 L325.3,384.9 L337.6,383.3 L351.2,385.5 L363.9,375.7 L377.0,370.8 L390.2,351.7 L403.3,363.0 L416.2,358.5 L429.3,364.4 L442.0,373.2 L455.0,376.1 L467.9,384.3 L481.4,380.0 L494.6,391.3 L507.3,387.8 L520.0,382.0 L533.1,358.5 L546.0,371.6 L546.0,371.6 L558.9,377.1 L572.2,368.7 L585.3,375.1 L598.0,361.1 L611.2,377.5 L623.9,374.1 L637.0,380.0 L650.8,392.1 L663.3,388.8 L676.6,376.7 L689.3,382.5" fill="none" stroke="#c4a400" stroke-width="1.15" stroke-linejoin="round"/>
<line x1="707.8" y1="307.5" x2="707.8" y2="595.0" stroke="#e0e0e0" stroke-width="1.0"/>
<line x1="0" y1="594.5" x2="707.8" y2="594.5" stroke="#d0d0d0" stroke-width="1.0"/>
<line x1="0.3" y1="594.5" x2="0.3" y2="596.3" stroke="#bbb" stroke-width="0.9"/>
<line x1="13.0" y1="594.5" x2="13.0" y2="596.3" stroke="#bbb" stroke-width="0.9"/>
<line x1="25.7" y1="594.5" x2="25.7" y2="596.3" stroke="#bbb" stroke-width="0.9"/>
<line x1="39.3" y1="594.5" x2="39.3" y2="596.3" stroke="#bbb" stroke-width="0.9"/>
<line x1="52.0" y1="594.5" x2="52.0" y2="596.3" stroke="#bbb" stroke-width="0.9"/>
<line x1="65.7" y1="594.5" x2="65.7" y2="596.3" stroke="#bbb" stroke-width="0.9"/>
<line x1="78.3" y1="594.5" x2="78.3" y2="596.3" stroke="#bbb" stroke-width="0.9"/>
<line x1="91.0" y1="594.5" x2="91.0" y2="596.3" stroke="#bbb" stroke-width="0.9"/>
<line x1="103.7" y1="594.5" x2="103.7" y2="596.3" stroke="#bbb" stroke-width="0.9"/>
<line x1="117.4" y1="594.5" x2="117.4" y2="596.3" stroke="#bbb" stroke-width="0.9"/>
<line x1="130.6" y1="594.5" x2="130.6" y2="596.3" stroke="#bbb" stroke-width="0.9"/>
<line x1="143.7" y1="594.5" x2="143.7" y2="596.3" stroke="#bbb" stroke-width="0.9"/>
<line x1="156.4" y1="594.5" x2="156.4" y2="596.3" stroke="#bbb" stroke-width="0.9"/>
<line x1="169.5" y1="594.5" x2="169.5" y2="596.3" stroke="#bbb" stroke-width="0.9"/>
<line x1="182.2" y1="594.5" x2="182.2" y2="596.3" stroke="#bbb" stroke-width="0.9"/>
<line x1="195.4" y1="594.5" x2="195.4" y2="596.3" stroke="#bbb" stroke-width="0.9"/>
<line x1="207.7" y1="594.5" x2="207.7" y2="596.3" stroke="#bbb" stroke-width="0.9"/>
<line x1="221.8" y1="594.5" x2="221.8" y2="596.3" stroke="#bbb" stroke-width="0.9"/>
<line x1="235.0" y1="594.5" x2="235.0" y2="596.3" stroke="#bbb" stroke-width="0.9"/>
<line x1="247.5" y1="594.5" x2="247.5" y2="596.3" stroke="#bbb" stroke-width="0.9"/>
<line x1="260.2" y1="594.5" x2="260.2" y2="596.3" stroke="#bbb" stroke-width="0.9"/>
<line x1="273.1" y1="594.5" x2="273.1" y2="596.3" stroke="#bbb" stroke-width="0.9"/>
<line x1="286.2" y1="594.5" x2="286.2" y2="596.3" stroke="#bbb" stroke-width="0.9"/>
<line x1="298.8" y1="594.5" x2="298.8" y2="596.3" stroke="#bbb" stroke-width="0.9"/>
<line x1="312.5" y1="594.5" x2="312.5" y2="596.3" stroke="#bbb" stroke-width="0.9"/>
<line x1="325.6" y1="594.5" x2="325.6" y2="596.3" stroke="#bbb" stroke-width="0.9"/>
<line x1="337.9" y1="594.5" x2="337.9" y2="596.3" stroke="#bbb" stroke-width="0.9"/>
<line x1="351.5" y1="594.5" x2="351.5" y2="596.3" stroke="#bbb" stroke-width="0.9"/>
<line x1="364.2" y1="594.5" x2="364.2" y2="596.3" stroke="#bbb" stroke-width="0.9"/>
<line x1="377.3" y1="594.5" x2="377.3" y2="596.3" stroke="#bbb" stroke-width="0.9"/>
<line x1="390.5" y1="594.5" x2="390.5" y2="596.3" stroke="#bbb" stroke-width="0.9"/>
<line x1="403.6" y1="594.5" x2="403.6" y2="596.3" stroke="#bbb" stroke-width="0.9"/>
<line x1="416.5" y1="594.5" x2="416.5" y2="596.3" stroke="#bbb" stroke-width="0.9"/>
<line x1="429.6" y1="594.5" x2="429.6" y2="596.3" stroke="#bbb" stroke-width="0.9"/>
<line x1="442.3" y1="594.5" x2="442.3" y2="596.3" stroke="#bbb" stroke-width="0.9"/>
<line x1="455.3" y1="594.5" x2="455.3" y2="596.3" stroke="#bbb" stroke-width="0.9"/>
<line x1="468.2" y1="594.5" x2="468.2" y2="596.3" stroke="#bbb" stroke-width="0.9"/>
<line x1="481.7" y1="594.5" x2="481.7" y2="596.3" stroke="#bbb" stroke-width="0.9"/>
<line x1="494.9" y1="594.5" x2="494.9" y2="596.3" stroke="#bbb" stroke-width="0.9"/>
<line x1="507.6" y1="594.5" x2="507.6" y2="596.3" stroke="#bbb" stroke-width="0.9"/>
<line x1="520.3" y1="594.5" x2="520.3" y2="596.3" stroke="#bbb" stroke-width="0.9"/>
<line x1="533.4" y1="594.5" x2="533.4" y2="596.3" stroke="#bbb" stroke-width="0.9"/>
<line x1="546.3" y1="594.5" x2="546.3" y2="596.3" stroke="#bbb" stroke-width="0.9"/>
<line x1="546.3" y1="594.5" x2="546.3" y2="596.3" stroke="#bbb" stroke-width="0.9"/>
<line x1="559.2" y1="594.5" x2="559.2" y2="596.3" stroke="#bbb" stroke-width="0.9"/>
<line x1="572.5" y1="594.5" x2="572.5" y2="596.3" stroke="#bbb" stroke-width="0.9"/>
<line x1="585.6" y1="594.5" x2="585.6" y2="596.3" stroke="#bbb" stroke-width="0.9"/>
<line x1="598.3" y1="594.5" x2="598.3" y2="596.3" stroke="#bbb" stroke-width="0.9"/>
<line x1="611.5" y1="594.5" x2="611.5" y2="596.3" stroke="#bbb" stroke-width="0.9"/>
<line x1="624.2" y1="594.5" x2="624.2" y2="596.3" stroke="#bbb" stroke-width="0.9"/>
<line x1="637.3" y1="594.5" x2="637.3" y2="596.3" stroke="#bbb" stroke-width="0.9"/>
<line x1="651.1" y1="594.5" x2="651.1" y2="596.3" stroke="#bbb" stroke-width="0.9"/>
<line x1="663.6" y1="594.5" x2="663.6" y2="596.3" stroke="#bbb" stroke-width="0.9"/>
<line x1="676.9" y1="594.5" x2="676.9" y2="596.3" stroke="#bbb" stroke-width="0.9"/>
<line x1="689.6" y1="594.5" x2="689.6" y2="596.3" stroke="#bbb" stroke-width="0.9"/>
<line x1="65.4" y1="594.5" x2="65.4" y2="597.3" stroke="#e0e0e0" stroke-width="1.0"/>
<line x1="155.6" y1="594.5" x2="155.6" y2="597.3" stroke="#e0e0e0" stroke-width="1.0"/>
<line x1="221.7" y1="594.5" x2="221.7" y2="597.3" stroke="#e0e0e0" stroke-width="1.0"/>
<line x1="285.9" y1="594.5" x2="285.9" y2="597.3" stroke="#e0e0e0" stroke-width="1.0"/>
<line x1="351.2" y1="594.5" x2="351.2" y2="597.3" stroke="#e0e0e0" stroke-width="1.0"/>
<line x1="429.3" y1="594.5" x2="429.3" y2="597.3" stroke="#e0e0e0" stroke-width="1.0"/>
<line x1="494.6" y1="594.5" x2="494.6" y2="597.3" stroke="#e0e0e0" stroke-width="1.0"/>
<line x1="558.9" y1="594.5" x2="558.9" y2="597.3" stroke="#e0e0e0" stroke-width="1.0"/>
<line x1="637.3" y1="594.5" x2="637.3" y2="597.3" stroke="#e0e0e0" stroke-width="1.0"/>
<path d="M707.8,343.6 L713.3,345.3 L707.8,347.0 Z" fill="#f0f0f0"/>
<line x1="707.8" y1="326.8" x2="711.0" y2="326.8" stroke="#d0d0d0" stroke-width="0.9"/>
<text x="715.2" y="348.5" font-size="8.8" fill="#f4f4f4" text-anchor="start" font-weight="normal" textLength="24.2" lengthAdjust="spacingAndGlyphs" stroke="#f4f4f4" stroke-width="0.3">0.900</text>
<path d="M707.8,380.6 L713.3,382.3 L707.8,384.0 Z" fill="#f0f0f0"/>
<line x1="707.8" y1="363.8" x2="711.0" y2="363.8" stroke="#d0d0d0" stroke-width="0.9"/>
<path d="M707.8,417.90000000000003 L713.3,419.6 L707.8,421.3 Z" fill="#f0f0f0"/>
<line x1="707.8" y1="401.1" x2="711.0" y2="401.1" stroke="#d0d0d0" stroke-width="0.9"/>
<text x="715.2" y="422.8" font-size="8.8" fill="#f4f4f4" text-anchor="start" font-weight="normal" textLength="24.2" lengthAdjust="spacingAndGlyphs" stroke="#f4f4f4" stroke-width="0.3">0.700</text>
<path d="M707.8,455.0 L713.3,456.7 L707.8,458.4 Z" fill="#f0f0f0"/>
<line x1="707.8" y1="438.2" x2="711.0" y2="438.2" stroke="#d0d0d0" stroke-width="0.9"/>
<text x="715.2" y="459.9" font-size="8.8" fill="#f4f4f4" text-anchor="start" font-weight="normal" textLength="24.2" lengthAdjust="spacingAndGlyphs" stroke="#f4f4f4" stroke-width="0.3">0.600</text>
<path d="M707.8,492.1 L713.3,493.8 L707.8,495.5 Z" fill="#f0f0f0"/>
<line x1="707.8" y1="475.3" x2="711.0" y2="475.3" stroke="#d0d0d0" stroke-width="0.9"/>
<text x="715.2" y="497.0" font-size="8.8" fill="#f4f4f4" text-anchor="start" font-weight="normal" textLength="24.2" lengthAdjust="spacingAndGlyphs" stroke="#f4f4f4" stroke-width="0.3">0.500</text>
<path d="M707.8,528.9 L713.3,530.6 L707.8,532.3000000000001 Z" fill="#f0f0f0"/>
<line x1="707.8" y1="512.1" x2="711.0" y2="512.1" stroke="#d0d0d0" stroke-width="0.9"/>
<text x="715.2" y="533.8" font-size="8.8" fill="#f4f4f4" text-anchor="start" font-weight="normal" textLength="24.2" lengthAdjust="spacingAndGlyphs" stroke="#f4f4f4" stroke-width="0.3">0.400</text>
<path d="M707.8,565.5999999999999 L713.3,567.3 L707.8,569.0 Z" fill="#f0f0f0"/>
<line x1="707.8" y1="548.8" x2="711.0" y2="548.8" stroke="#d0d0d0" stroke-width="0.9"/>
<line x1="707.8" y1="585.8" x2="711.0" y2="585.8" stroke="#d0d0d0" stroke-width="0.9"/>
<path d="M707.8,307.4 L713.5999999999999,308.2 L707.8,310.2 Z" fill="#f0f0f0"/>
<path d="M709.6,383.2 L713.6,378.6 L742.4,378.6 L742.4,387.8 L713.6,387.8 Z" fill="#e0bd10"/>
<text x="715.0" y="386.3" font-size="8.8" fill="#141200" text-anchor="start" font-weight="normal" textLength="24.6" lengthAdjust="spacingAndGlyphs" stroke="#141200" stroke-width="0.35">0.799</text>
<path d="M709.6,568.4 L713.6,563.8 L742.4,563.8 L742.4,573.0 L713.6,573.0 Z" fill="#f4f4f4"/>
<text x="715.0" y="571.5" font-size="8.8" fill="#0a0a0a" text-anchor="start" font-weight="normal" textLength="24.6" lengthAdjust="spacingAndGlyphs" stroke="#0a0a0a" stroke-width="0.35">0.299</text>
<text x="65.4" y="604.3" font-size="8.8" fill="#f0f0f0" text-anchor="middle" font-weight="normal" textLength="30.0" lengthAdjust="spacingAndGlyphs" stroke="#f0f0f0" stroke-width="0.4">Mar 22</text>
<text x="156.0" y="604.3" font-size="8.8" fill="#f0f0f0" text-anchor="middle" font-weight="normal" textLength="30.0" lengthAdjust="spacingAndGlyphs" stroke="#f0f0f0" stroke-width="0.4">Mar 31</text>
<text x="221.7" y="604.3" font-size="8.8" fill="#f0f0f0" text-anchor="middle" font-weight="normal" textLength="23.5" lengthAdjust="spacingAndGlyphs" stroke="#f0f0f0" stroke-width="0.4">Apr 8</text>
<text x="286.2" y="604.3" font-size="8.8" fill="#f0f0f0" text-anchor="middle" font-weight="normal" textLength="28.5" lengthAdjust="spacingAndGlyphs" stroke="#f0f0f0" stroke-width="0.4">Apr 15</text>
<text x="351.2" y="604.3" font-size="8.8" fill="#f0f0f0" text-anchor="middle" font-weight="normal" textLength="28.5" lengthAdjust="spacingAndGlyphs" stroke="#f0f0f0" stroke-width="0.4">Apr 22</text>
<text x="429.3" y="604.3" font-size="8.8" fill="#f0f0f0" text-anchor="middle" font-weight="normal" textLength="28.5" lengthAdjust="spacingAndGlyphs" stroke="#f0f0f0" stroke-width="0.4">Apr 30</text>
<text x="494.6" y="604.3" font-size="8.8" fill="#f0f0f0" text-anchor="middle" font-weight="normal" textLength="25.5" lengthAdjust="spacingAndGlyphs" stroke="#f0f0f0" stroke-width="0.4">May 7</text>
<text x="558.9" y="604.3" font-size="8.8" fill="#f0f0f0" text-anchor="middle" font-weight="normal" textLength="31.0" lengthAdjust="spacingAndGlyphs" stroke="#f0f0f0" stroke-width="0.4">May 14</text>
<text x="637.0" y="604.3" font-size="8.8" fill="#f0f0f0" text-anchor="middle" font-weight="normal" textLength="31.0" lengthAdjust="spacingAndGlyphs" stroke="#f0f0f0" stroke-width="0.4">May 24</text>
<text x="690.8" y="604.3" font-size="8.8" fill="#f0f0f0" text-anchor="middle" font-weight="normal" textLength="31.0" lengthAdjust="spacingAndGlyphs" stroke="#f0f0f0" stroke-width="0.4">May 31</text>
<text x="354.0" y="613.8" font-size="8.8" fill="#f0f0f0" text-anchor="middle" font-weight="normal" textLength="20.5" lengthAdjust="spacingAndGlyphs" stroke="#f0f0f0" stroke-width="0.4">2021</text>
<rect x="497.3" y="419.8" width="98.6" height="36" fill="#151515"/>
<text x="546.7" y="431.3" font-size="8.8" fill="#f2f2f2" text-anchor="middle" font-weight="normal" textLength="47.0" lengthAdjust="spacingAndGlyphs" stroke="#f2f2f2" stroke-width="0.3">Last Price</text>
<rect x="502.8" y="433.4" width="10.1" height="8.1" fill="#fafafa"/>
<rect x="502.8" y="443.0" width="10.1" height="8.1" fill="#e0bd10"/>
<text x="515.3" y="441.1" font-size="8.8" fill="#f2f2f2" text-anchor="start" font-weight="normal" textLength="45.6" lengthAdjust="spacingAndGlyphs" stroke="#f2f2f2" stroke-width="0.2">GT03 Govt</text>
<text x="591.0" y="441.1" font-size="8.8" fill="#f2f2f2" text-anchor="end" font-weight="normal" textLength="24.4" lengthAdjust="spacingAndGlyphs" stroke="#f2f2f2" stroke-width="0.2">0.299</text>
<text x="515.3" y="450.6" font-size="8.8" fill="#f2f2f2" text-anchor="start" font-weight="normal" textLength="45.6" lengthAdjust="spacingAndGlyphs" stroke="#f2f2f2" stroke-width="0.2">GT05 Govt</text>
<text x="591.0" y="450.6" font-size="8.8" fill="#f2f2f2" text-anchor="end" font-weight="normal" textLength="24.4" lengthAdjust="spacingAndGlyphs" stroke="#f2f2f2" stroke-width="0.2">0.799</text>
</g>
<g id="c4">
<rect x="742.4" y="304.6" width="729.6" height="310.4" fill="#fff"/>
<rect x="742.4" y="304.6" width="1.8" height="310.4" fill="url(#g4l)"/>
<rect x="1470.4" y="304.6" width="1.6" height="310.4" fill="#1a1a1a"/>
<rect x="742.4" y="613.6" width="729.6" height="1.4" fill="#d8d8d8"/>
<path d="M804.4,500.8 L804.9,492.7 L805.5,490.4 L805.9,484.6 L806.5,483.9 L806.9,491.3 L807.6,494.3 L808.6,477.4 L809.6,485.2 L810.7,467.0 L811.7,481.3 L813.0,456.6 L814.1,470.9 L815.1,459.2 L816.1,467.0 L816.9,453.2 L817.7,447.4 L818.8,464.4 L819.8,477.4 L820.8,459.2 L822.1,467.0 L822.9,475.8 L823.4,473.5 L823.9,464.1 L824.7,456.6 L826.0,446.1 L826.9,442.8 L827.3,433.1 L827.9,438.8 L828.6,450.1 L829.7,438.3 L830.7,442.2 L832.0,474.8 L832.9,439.7 L833.3,433.1 L833.9,431.1 L834.4,420.1 L834.9,413.3 L835.4,411.0 L835.9,403.6 L836.5,388.9 L836.9,392.0 L837.5,405.8 L837.9,418.8 L838.3,422.7 L839.1,440.9 L839.9,422.0 L840.4,420.1 L841.1,433.1 L841.9,446.1 L843.0,459.2 L844.0,455.3 L845.1,459.2 L846.1,469.6 L847.1,478.7 L847.9,492.9 L848.2,493.0 L849.0,500.8 L849.8,494.3 L850.9,499.8 L851.7,509.9 L852.9,509.8 L853.7,506.0 L854.9,521.3 L855.6,523.5 L856.9,531.1 L857.6,530.4 L858.9,522.5 L859.5,521.6 L859.9,520.5 L860.9,510.2 L861.5,508.9 L861.9,508.2 L862.9,511.6 L863.4,517.7 L863.9,514.9 L864.9,506.5 L865.9,497.0 L866.3,490.4 L866.9,483.1 L867.9,483.6 L868.3,478.7 L868.9,491.3 L869.3,504.0 L869.9,507.7 L870.9,525.6 L871.2,527.4 L871.9,524.6 L872.9,525.7 L874.1,521.6 L874.9,515.1 L876.1,511.8 L876.9,520.2 L878.0,523.5 L878.9,525.9 L880.0,535.2 L880.9,543.4 L881.6,546.0 L882.9,531.3 L883.9,532.8 L884.9,534.7 L885.9,541.1 L886.9,541.3 L887.8,535.2 L888.9,539.7 L889.8,547.0 L890.9,547.1 L891.9,555.1 L892.7,553.8 L893.9,555.4 L894.6,558.7 L896.0,539.1 L896.9,540.3 L897.9,536.3 L898.9,539.3 L899.5,536.2 L899.9,534.8 L900.9,542.6 L901.9,545.7 L902.4,545.0 L902.9,544.4 L903.9,553.6 L904.4,554.8 L904.9,559.9 L905.8,561.6 L906.9,556.4 L907.9,557.2 L908.3,552.8 L908.9,548.5 L909.9,547.3 L910.9,548.8 L911.2,547.0 L911.9,542.5 L912.9,546.8 L914.1,542.1 L914.9,537.0 L916.1,537.2 L916.9,544.7 L918.0,550.9 L918.9,545.9 L919.9,547.4 L921.0,543.0 L921.9,541.2 L922.9,547.3 L923.9,547.0 L924.9,549.5 L925.9,547.4 L926.8,549.9 L927.9,553.6 L928.9,553.3 L929.2,555.7 L929.9,551.6 L931.1,541.1 L931.9,528.3 L932.9,517.1 L933.7,510.9 L935.0,543.0 L935.9,558.4 L936.6,566.5 L938.1,529.4 L938.9,537.2 L939.5,545.0 L939.9,544.9 L940.9,533.3 L941.9,522.8 L942.9,523.1 L943.4,516.7 L943.9,516.0 L944.9,528.7 L945.4,527.4 L945.9,525.5 L946.9,533.3 L947.3,530.4 L947.9,525.7 L948.9,529.8 L949.9,520.3 L950.2,522.6 L950.9,521.2 L951.9,531.4 L952.9,534.0 L953.2,532.3 L953.9,537.1 L955.1,550.9 L956.1,539.1 L956.9,542.0 L957.9,537.1 L959.0,540.1 L959.9,540.5 L961.0,547.9 L961.9,554.6 L962.9,556.2 L963.5,561.6 L963.9,560.6 L964.9,548.9 L965.9,546.6 L966.9,551.9 L967.8,549.9 L968.9,544.6 L969.9,545.0 L970.7,540.1 L971.9,542.8 L972.7,549.9 L973.9,554.5 L974.9,554.2 L975.6,558.7 L976.9,561.2 L977.6,560.6 L978.9,561.1 L979.9,554.7 L980.5,556.7 L980.9,559.5 L981.9,556.8 L982.9,557.2 L983.4,560.6 L983.9,561.9 L984.9,570.8 L985.4,572.3 L985.9,569.1 L986.9,565.3 L987.3,566.5 L987.9,565.2 L988.9,554.3 L989.3,552.8 L989.9,556.7 L990.9,557.5 L991.9,565.1 L992.2,564.5 L992.9,554.6 L994.1,545.0 L994.9,546.1 L996.1,552.8 L996.9,557.1 L998.0,560.6 L998.9,556.3 L999.9,547.2 L1001.0,543.0 L1001.9,540.6 L1002.9,530.0 L1003.9,525.5 L1004.9,533.5 L1005.9,539.1 L1006.9,545.8 L1007.8,548.9 L1008.9,553.1 L1009.9,560.6 L1010.7,562.6 L1011.9,550.9 L1012.7,547.0 L1013.9,531.0 L1014.6,527.4 L1015.9,533.3 L1017.0,535.2 L1017.9,536.5 L1018.9,543.3 L1019.5,543.0 L1019.9,542.4 L1020.9,547.7 L1021.9,545.7 L1022.4,548.9 L1022.9,552.9 L1023.9,550.1 L1024.9,554.3 L1025.4,556.7 L1025.9,555.6 L1026.9,562.5 L1027.9,560.8 L1028.3,564.5 L1028.9,561.0 L1030.2,547.0 L1030.9,545.8 L1032.2,535.2 L1032.9,540.3 L1034.1,543.0 L1034.9,545.4 L1036.1,552.8 L1036.9,559.2 L1038.0,561.6 L1038.9,550.7 L1040.0,543.0 L1040.9,540.3 L1042.0,529.4 L1042.9,534.9 L1043.9,530.0 L1044.9,535.2 L1045.9,542.6 L1046.8,543.0 L1047.9,551.7 L1048.8,555.7 L1049.9,548.2 L1050.9,548.0 L1051.7,541.1 L1052.9,537.6 L1053.7,537.2 L1054.9,531.1 L1055.9,530.0 L1056.6,525.5 L1056.9,521.7 L1057.9,525.4 L1058.9,519.1 L1059.5,521.6 L1059.9,520.8 L1060.9,527.3 L1061.5,533.3 L1061.9,533.6 L1062.9,541.4 L1063.4,541.1 L1063.9,537.9 L1064.9,542.4 L1065.9,541.8 L1066.3,539.1 L1066.9,538.9 L1067.9,540.6 L1068.3,545.0 L1068.9,549.2 L1069.9,550.4 L1071.2,550.9 L1071.9,551.5 L1073.2,556.7 L1073.9,561.5 L1075.1,564.5 L1075.9,567.6 L1077.1,574.3 L1077.9,565.9 L1079.0,558.7 L1080.0,533.3 L1080.9,536.8 L1081.9,531.6 L1082.9,534.3 L1083.9,537.2 L1084.9,535.4 L1085.9,539.1 L1086.9,537.5 L1087.9,544.7 L1088.8,544.0 L1089.9,539.3 L1090.9,535.8 L1091.7,537.2 L1092.9,533.5 L1093.9,523.9 L1094.6,523.5 L1094.9,520.2 L1095.9,517.2 L1096.6,511.8 L1096.9,507.0 L1098.0,499.1 L1098.9,519.5 L1099.5,529.4 L1099.9,530.0 L1101.1,543.0 L1101.9,540.0 L1102.4,533.3 L1102.9,530.3 L1103.9,533.5 L1104.4,531.3 L1104.9,527.4 L1105.9,529.0 L1106.3,525.5 L1106.9,527.2 L1107.9,537.1 L1108.9,537.5 L1109.3,542.1 L1109.9,537.3 L1110.9,534.5 L1112.2,531.3 L1112.9,533.2 L1113.9,529.9 L1115.1,525.5 L1115.9,520.9 L1116.9,527.7 L1118.0,522.6 L1118.9,520.3 L1120.0,513.8 L1120.9,513.9 L1122.0,521.6 L1122.9,519.4 L1123.9,513.8 L1124.9,514.0 L1125.9,508.9 L1126.9,510.2 L1127.9,518.3 L1128.8,517.7 L1129.9,515.5 L1130.9,520.9 L1131.7,516.7 L1132.9,521.1 L1133.9,518.5 L1134.6,523.5 L1134.9,527.8 L1135.9,527.2 L1136.6,531.3 L1136.9,534.1 L1137.9,535.6 L1138.5,541.1 L1138.9,541.7 L1139.9,536.8 L1140.5,537.2 L1140.9,534.0 L1141.9,537.3 L1142.4,539.1 L1142.9,541.1 L1143.9,531.7 L1144.4,533.3 L1144.9,534.5 L1145.9,527.5 L1146.9,528.6 L1147.3,526.5 L1147.9,524.8 L1148.9,533.5 L1149.3,532.3 L1149.9,531.3 L1150.9,537.1 L1152.2,538.2 L1152.9,536.4 L1153.9,533.3 L1155.1,535.2 L1155.9,540.1 L1156.9,536.8 L1158.0,541.1 L1158.9,541.1 L1159.9,539.3 L1161.0,533.3 L1161.9,529.5 L1162.9,535.8 L1163.9,532.3 L1164.9,538.1 L1165.9,542.9 L1166.8,543.0 L1167.9,535.7 L1168.8,535.2 L1169.9,535.9 L1170.9,531.1 L1171.7,531.3 L1172.9,535.7 L1173.9,533.0 L1174.6,536.2 L1174.9,539.4 L1175.9,534.9 L1176.9,541.9 L1177.6,541.1 L1177.9,538.3 L1178.9,541.8 L1179.9,541.5 L1180.5,538.2 L1180.9,535.8 L1181.9,539.0 L1182.9,544.3 L1183.4,542.1 L1183.9,539.4 L1184.9,541.6 L1185.9,537.4 L1186.3,538.2 L1186.9,541.4 L1187.9,535.3 L1188.9,534.8 L1189.3,537.2 L1189.9,535.1 L1190.9,537.5 L1192.2,540.1 L1192.9,542.8 L1193.9,536.1 L1195.1,539.1 L1195.9,544.1 L1197.1,546.0 L1197.9,544.6 L1198.9,548.9 L1200.0,548.9 L1200.9,550.3 L1201.9,545.3 L1202.9,547.0 L1203.9,546.1 L1204.9,539.3 L1205.9,539.1 L1206.9,539.5 L1207.8,534.3 L1208.9,536.9 L1209.8,541.1 L1210.9,543.0 L1211.9,539.6 L1212.7,543.0 L1213.9,552.2 L1214.6,552.8 L1214.9,552.9 L1215.9,555.0 L1216.6,560.6 L1216.9,562.9 L1217.9,557.0 L1218.9,556.1 L1219.5,556.7 L1219.9,556.9 L1220.9,545.0 L1221.5,543.0 L1221.9,539.6 L1222.9,542.9 L1223.9,538.4 L1224.4,540.1 L1224.9,541.0 L1225.9,537.7 L1226.9,541.2 L1227.3,538.2 L1227.9,536.9 L1228.9,541.4 L1230.2,540.1 L1230.9,540.3 L1231.9,543.0 L1233.2,550.9 L1233.9,553.3 L1234.9,550.3 L1236.1,554.8 L1236.9,555.0 L1237.9,548.4 L1239.0,547.0 L1239.9,546.4 L1240.9,538.2 L1242.0,537.2 L1242.9,537.9 L1243.9,531.7 L1244.9,534.3 L1245.9,535.1 L1246.8,542.1 L1247.9,545.1 L1248.9,543.5 L1249.8,547.0 L1250.9,549.3 L1251.9,548.0 L1252.7,549.9 L1253.9,552.0 L1254.9,546.7 L1255.6,548.9 L1255.9,551.2 L1256.9,548.0 L1257.9,553.3 L1258.5,550.9 L1258.9,549.3 L1259.9,547.1 L1260.9,550.0 L1261.5,547.9 L1261.9,546.7 L1262.9,547.5 L1263.9,553.6 L1264.4,550.9 L1264.9,549.8 L1265.9,556.9 L1266.3,554.8 L1266.9,553.9 L1267.9,559.6 L1268.9,557.1 L1269.3,558.7 L1269.9,555.7 L1271.2,543.0 L1271.9,539.1 L1272.9,539.2 L1274.1,534.3 L1274.9,535.0 L1276.1,543.0 L1276.9,545.3 L1277.9,541.6 L1279.0,545.0 L1279.9,546.7 L1280.9,542.9 L1282.0,546.0 L1282.9,550.0 L1283.9,551.8 L1284.9,555.1 L1285.9,562.6 L1286.9,563.4 L1288.2,570.4 L1288.9,565.5 L1289.9,561.0 L1290.7,558.7 L1291.9,555.2 L1292.7,549.9 L1293.9,552.9 L1294.9,548.1 L1295.6,549.9 L1295.9,551.8 L1296.9,548.5 L1297.9,552.9 L1298.5,550.9 L1298.9,548.5 L1299.9,547.7 L1300.9,552.0 L1301.5,548.9 L1301.9,550.9 L1302.9,548.2 L1303.9,553.5 L1304.4,551.8 L1304.9,554.1 L1305.9,552.4 L1306.9,548.3 L1307.3,550.9 L1307.9,554.0 L1308.9,553.4 L1310.2,560.6 L1310.9,564.1 L1311.9,561.6 L1313.2,566.5 L1313.9,568.5 L1315.1,568.4 L1316.1,543.0 L1316.9,546.0 L1318.0,556.7 L1318.9,558.1 L1319.9,552.6 L1321.0,552.8 L1321.9,549.8 L1322.9,553.7 L1323.9,550.9 L1324.9,547.6 L1325.9,547.6 L1326.8,548.9 L1327.9,548.6 L1328.9,550.3 L1329.8,554.8 L1330.9,554.2 L1331.9,556.8 L1332.7,560.6 L1333.9,562.2 L1334.9,560.9 L1335.6,558.7 L1335.9,557.6 L1336.9,562.0 L1337.9,558.2 L1338.5,559.6 L1338.9,561.6 L1339.9,557.7 L1340.9,562.7 L1341.5,561.6 L1341.9,559.8 L1342.9,564.2 L1343.9,562.3 L1344.4,564.5 L1344.9,567.5 L1345.9,564.7 L1346.9,566.5 L1347.9,518.0 L1349.1,469.3 L1349.9,488.3 L1350.5,498.5 L1350.9,489.4 L1351.8,481.9 L1352.9,499.6 L1353.4,504.4 L1353.9,492.7 L1354.4,485.8 L1354.9,497.9 L1355.9,506.7 L1356.3,516.1 L1356.9,519.3 L1357.3,525.8 L1357.9,525.5 L1358.9,517.3 L1359.6,510.2 L1359.9,508.5 L1361.2,523.9 L1361.9,525.1 L1362.9,518.5 L1363.5,521.9 L1363.9,520.2 L1364.9,526.7 L1366.1,525.8 L1366.9,513.0 L1368.0,505.3 L1368.9,509.6 L1370.0,510.2 L1370.9,518.7 L1371.9,533.6 L1372.9,532.4 L1373.9,521.7 L1374.5,521.9 L1374.9,524.9 L1375.9,524.8 L1376.8,529.7 L1377.9,526.8 L1378.9,532.8 L1379.7,528.7 L1380.9,529.7 L1381.9,538.2 L1382.7,537.5 L1383.9,537.7 L1384.9,540.4 L1385.6,545.3 L1385.9,549.0 L1387.0,555.1 L1387.9,548.3 L1388.5,545.7 L1388.9,548.3 L1389.9,549.8 L1390.9,550.4 L1391.9,548.1 L1392.4,550.6 L1392.9,550.1 L1393.9,551.1 L1394.9,555.8 L1395.9,552.3 L1396.3,555.5 L1396.9,557.4 L1397.9,554.9 L1398.9,559.5 L1399.9,555.3 L1401.2,558.4 L1401.9,560.5 L1402.9,556.3 L1403.9,557.5 L1405.1,560.3 L1405.9,562.4 L1406.9,559.9 L1407.9,563.5 L1409.0,562.3 L1409.9,562.8 L1410.9,569.1 L1411.9,564.5 L1412.9,557.4 L1413.9,563.7 L1414.8,572.0 L1415.9,573.3 L1416.8,571.1 L1417.9,569.3 L1418.9,572.4 L1419.7,570.1" fill="none" stroke="#3f6fc8" stroke-width="1.5" stroke-linejoin="miter"/>
<path d="M804.3,460.4 L804.8,455.2 L805.9,450.6 L806.8,453.4 L807.8,452.6 L808.8,439.8 L809.4,437.0 L809.8,437.8 L810.7,427.2 L811.8,432.9 L812.1,438.9 L812.8,433.8 L814.0,419.4 L814.8,407.0 L815.6,405.7 L816.8,405.8 L817.2,401.8 L817.8,374.8 L818.1,371.6 L818.8,402.1 L819.1,409.6 L819.8,418.5 L820.5,423.3 L821.8,427.6 L822.4,425.2 L822.8,426.1 L823.8,441.2 L824.4,440.9 L824.8,426.7 L825.8,405.7 L826.8,402.3 L827.7,392.1 L828.9,413.5 L829.8,422.2 L830.2,429.1 L830.8,428.3 L831.8,416.1 L832.2,417.4 L832.8,416.4 L833.8,399.3 L834.1,399.9 L834.8,387.6 L835.7,358.9 L836.8,359.7 L837.1,366.7 L838.0,380.4 L838.8,386.1 L840.0,378.4 L840.8,383.8 L841.4,394.0 L841.8,395.1 L842.8,412.3 L843.3,411.6 L843.8,405.5 L844.8,410.7 L845.3,403.8 L845.8,407.8 L846.8,429.1 L847.8,436.0 L848.8,448.7 L849.8,458.9 L850.3,458.4 L850.8,456.2 L851.8,456.4 L852.3,462.3 L852.8,468.3 L853.8,464.8 L854.6,472.1 L855.8,488.2 L856.6,491.3 L857.8,483.2 L858.5,474.8 L859.8,457.7 L860.5,454.5 L861.8,456.5 L862.4,452.6 L862.8,447.8 L863.8,447.7 L864.4,438.9 L864.8,433.3 L865.8,434.2 L866.3,425.2 L866.8,418.8 L867.8,422.9 L868.3,414.5 L868.8,431.2 L869.3,437.0 L869.8,440.5 L870.6,454.5 L871.8,465.1 L872.6,464.3 L873.8,470.0 L874.8,468.9 L875.1,472.1 L875.8,474.5 L876.8,468.0 L877.1,470.1 L878.0,472.8 L878.8,478.2 L879.2,476.7 L880.0,455.2 L880.8,484.5 L881.0,517.7 L882.0,497.2 L882.8,493.4 L883.9,495.2 L884.8,495.9 L885.9,504.0 L886.8,505.6 L887.8,501.1 L888.8,504.5 L889.8,507.3 L890.7,514.8 L891.8,508.8 L892.7,509.9 L893.8,518.8 L894.6,521.6 L895.8,508.2 L896.6,504.0 L897.8,504.2 L898.5,502.1 L899.8,504.9 L900.5,508.9 L901.8,516.8 L902.8,520.6 L903.8,515.7 L904.8,515.9 L905.4,511.8 L905.8,507.3 L906.8,510.1 L907.8,504.0 L908.3,505.0 L908.8,508.3 L909.8,514.2 L910.2,511.8 L910.8,511.7 L911.8,519.4 L912.2,519.6 L912.8,514.6 L913.8,509.4 L914.8,509.5 L915.1,504.0 L915.8,497.6 L916.8,493.8 L917.1,490.4 L917.8,488.6 L919.0,497.2 L919.8,491.2 L920.8,493.7 L922.0,487.4 L922.8,485.0 L923.8,494.1 L924.9,492.3 L925.8,489.1 L926.8,485.4 L927.8,488.4 L928.8,490.5 L929.8,500.1 L930.8,478.3 L931.1,476.7 L931.8,470.3 L932.3,460.1 L932.8,447.7 L933.9,426.0 L935.0,454.3 L935.8,458.8 L936.6,458.2 L937.8,459.2 L938.5,466.0 L939.5,478.7 L940.8,461.6 L941.5,457.2 L942.4,450.4 L942.8,438.7 L943.6,431.8 L944.8,444.5 L945.8,444.6 L946.7,450.4 L947.8,450.8 L948.7,446.5 L949.8,459.3 L950.2,467.0 L950.8,462.3 L951.8,441.6 L952.8,452.7 L953.2,452.3 L953.8,448.2 L954.8,457.6 L955.7,454.3 L956.8,470.0 L957.1,468.9 L958.0,476.7 L958.8,476.9 L960.0,484.5 L960.8,487.9 L961.8,479.4 L962.9,482.6 L963.8,489.8 L964.8,506.9 L965.9,514.8 L966.8,506.2 L967.8,500.1 L968.8,497.0 L969.8,490.4 L970.8,486.2 L971.7,474.8 L972.8,481.6 L973.3,490.4 L973.8,489.7 L974.8,500.9 L975.6,502.1 L976.8,503.3 L978.0,507.0 L978.8,509.8 L979.5,517.7 L980.8,528.7 L981.5,529.4 L982.8,531.8 L983.4,537.2 L983.8,537.3 L984.8,544.2 L985.4,545.0 L985.8,542.4 L986.8,545.3 L987.3,543.0 L987.8,536.4 L988.8,534.1 L989.3,528.4 L989.8,526.1 L990.8,534.1 L991.8,530.4 L992.2,533.3 L992.8,532.0 L993.2,529.4 L993.8,530.2 L994.8,538.1 L995.8,537.0 L996.1,540.1 L996.8,543.3 L998.0,543.0 L998.8,535.7 L999.8,534.2 L1001.0,523.5 L1001.8,514.4 L1002.9,507.9 L1003.8,507.7 L1004.5,504.0 L1005.8,509.2 L1006.8,517.7 L1007.8,523.3 L1008.8,525.1 L1009.8,525.5 L1010.8,518.4 L1011.8,519.0 L1012.7,511.8 L1013.8,497.7 L1014.6,492.3 L1015.8,503.3 L1016.6,504.0 L1017.8,495.9 L1018.5,497.2 L1019.8,498.4 L1020.5,502.1 L1021.8,511.1 L1022.8,512.9 L1023.4,513.8 L1023.8,511.1 L1024.8,514.2 L1025.4,511.8 L1025.8,513.5 L1026.8,530.8 L1027.3,533.3 L1027.8,526.9 L1028.8,523.6 L1029.8,518.5 L1030.2,511.8 L1030.8,505.9 L1031.8,508.7 L1032.8,506.1 L1033.2,501.1 L1033.8,502.7 L1035.1,513.8 L1035.8,517.7 L1036.8,516.4 L1038.0,521.6 L1038.8,525.0 L1040.0,527.4 L1040.8,521.0 L1042.0,516.7 L1042.8,522.1 L1043.8,522.3 L1044.9,529.4 L1045.8,535.1 L1046.8,531.3 L1047.8,537.2 L1048.8,540.1 L1049.8,537.2 L1050.7,541.1 L1051.8,543.7 L1052.8,541.0 L1053.7,545.0 L1054.8,539.8 L1055.8,540.9 L1056.6,535.2 L1057.8,530.2 L1058.8,531.9 L1059.5,529.4 L1060.8,522.9 L1061.8,525.1 L1062.4,519.6 L1062.8,515.9 L1063.8,521.1 L1064.8,513.1 L1065.4,515.7 L1065.8,515.7 L1066.8,504.8 L1067.3,506.0 L1067.8,511.4 L1068.8,516.0 L1069.3,521.6 L1069.8,523.8 L1070.8,522.0 L1071.8,526.8 L1072.2,525.5 L1072.8,523.1 L1074.1,523.5 L1074.8,522.7 L1076.1,516.7 L1076.8,521.7 L1078.0,533.3 L1078.8,543.2 L1079.4,548.9 L1079.8,541.4 L1080.8,532.1 L1082.0,513.8 L1082.8,516.0 L1083.8,517.9 L1084.9,516.7 L1085.8,521.4 L1086.8,533.3 L1087.8,540.7 L1088.8,544.0 L1089.8,539.6 L1090.8,544.1 L1091.7,540.1 L1092.8,536.1 L1093.7,537.2 L1094.8,530.0 L1095.6,521.6 L1096.8,511.3 L1098.0,504.0 L1098.8,513.4 L1099.5,515.7 L1100.8,521.8 L1101.5,527.4 L1102.8,527.3 L1103.4,522.6 L1103.8,525.0 L1104.8,519.7 L1105.8,520.6 L1106.8,527.1 L1107.8,527.1 L1108.3,531.3 L1108.8,537.3 L1109.7,539.1 L1110.8,537.1 L1111.8,527.7 L1112.2,529.4 L1112.8,530.1 L1113.8,524.2 L1115.1,523.5 L1115.8,521.8 L1117.1,511.8 L1117.8,502.7 L1119.0,494.3 L1119.8,503.1 L1120.6,507.9 L1122.0,502.1 L1122.8,505.5 L1123.9,515.7 L1124.8,514.5 L1125.8,508.8 L1126.8,507.9 L1127.8,514.4 L1128.8,515.7 L1129.8,511.5 L1130.8,516.5 L1131.7,511.8 L1132.8,509.4 L1133.8,509.6 L1134.6,510.9 L1135.8,517.1 L1137.0,517.7 L1137.8,515.5 L1138.5,519.6 L1139.8,514.7 L1140.9,515.7 L1141.8,532.5 L1142.8,545.0 L1143.8,541.5 L1144.8,544.7 L1145.4,541.1 L1145.8,545.9 L1146.8,545.6 L1147.3,550.9 L1147.8,554.4 L1148.8,553.9 L1149.9,557.7 L1150.8,549.6 L1151.8,537.2 L1152.8,530.4 L1153.8,529.4 L1154.8,531.5 L1156.1,528.4 L1156.8,529.8 L1158.0,539.1 L1158.8,541.6 L1160.0,543.0 L1160.8,543.7 L1162.0,550.9 L1162.8,550.7 L1163.8,545.0 L1164.9,543.0 L1165.8,542.6 L1166.8,539.1 L1167.8,534.0 L1168.8,533.5 L1169.8,528.4 L1170.8,525.4 L1171.8,531.0 L1172.7,529.4 L1173.8,526.0 L1174.8,530.5 L1175.6,527.4 L1176.8,525.0 L1177.8,526.9 L1178.5,524.5 L1179.8,529.7 L1180.5,535.2 L1181.8,542.9 L1182.4,545.0 L1182.8,544.5 L1183.8,550.7 L1184.4,549.9 L1184.8,548.4 L1185.8,551.7 L1186.8,548.8 L1187.3,549.9 L1187.8,548.8 L1188.8,547.7 L1189.8,552.5 L1190.2,550.9 L1190.8,553.7 L1191.8,549.5 L1192.8,553.7 L1193.2,550.9 L1193.8,548.0 L1194.8,550.7 L1196.1,547.0 L1197.1,551.8 L1197.8,551.5 L1198.8,550.3 L1200.0,546.0 L1200.8,547.6 L1201.8,541.3 L1202.9,543.0 L1203.8,542.5 L1204.8,537.9 L1205.9,538.2 L1206.8,538.4 L1207.8,535.2 L1208.8,530.0 L1209.8,528.4 L1210.8,534.4 L1211.8,531.8 L1212.7,537.2 L1213.8,538.2 L1214.8,538.9 L1215.6,543.0 L1216.8,542.7 L1217.6,545.0 L1218.8,541.9 L1219.5,537.2 L1220.8,536.4 L1221.5,532.3 L1222.8,526.9 L1223.4,527.4 L1223.8,527.4 L1224.8,520.2 L1225.4,521.6 L1225.8,526.0 L1226.8,523.5 L1227.3,526.5 L1227.8,528.2 L1228.8,523.8 L1229.3,527.4 L1229.8,527.3 L1230.8,539.0 L1231.2,538.2 L1231.8,541.8 L1232.8,541.0 L1233.2,543.0 L1233.8,546.1 L1235.1,547.0 L1235.8,543.7 L1236.8,545.4 L1237.7,543.0 L1238.8,539.7 L1239.6,535.2 L1240.8,530.5 L1242.0,529.4 L1242.8,531.6 L1243.8,529.8 L1244.9,527.4 L1245.8,526.7 L1246.8,531.6 L1247.4,530.4 L1247.8,529.2 L1248.8,534.1 L1249.8,531.3 L1250.8,530.1 L1251.8,528.7 L1252.7,532.3 L1253.8,539.2 L1254.6,542.1 L1255.6,531.3 L1256.8,531.3 L1257.8,534.8 L1258.5,534.3 L1259.8,530.7 L1260.5,531.3 L1261.8,529.2 L1262.4,523.5 L1262.8,520.8 L1263.8,523.9 L1264.4,520.6 L1264.8,518.1 L1265.8,520.5 L1266.8,518.8 L1267.3,516.7 L1267.8,516.7 L1268.8,523.1 L1269.3,527.4 L1269.8,529.0 L1270.8,525.3 L1271.8,524.3 L1272.2,527.4 L1272.8,523.8 L1274.1,519.6 L1274.8,526.5 L1276.1,531.3 L1276.8,533.9 L1277.8,531.5 L1279.0,533.3 L1279.8,534.5 L1281.0,528.4 L1281.8,531.9 L1282.9,529.4 L1283.8,537.1 L1284.9,543.0 L1285.8,544.6 L1286.8,548.9 L1287.8,554.1 L1288.8,554.8 L1289.8,556.4 L1290.8,551.1 L1291.7,552.8 L1292.8,557.6 L1293.8,556.2 L1294.6,560.6 L1295.8,562.3 L1296.8,557.8 L1297.6,558.7 L1298.8,559.2 L1299.8,555.0 L1300.5,556.7 L1301.8,553.7 L1302.4,550.9 L1302.8,547.4 L1303.8,547.2 L1304.8,541.3 L1305.4,540.1 L1305.8,543.5 L1306.8,547.4 L1307.3,547.0 L1307.8,549.5 L1308.8,547.6 L1309.8,548.1 L1310.2,550.9 L1310.8,553.0 L1311.8,551.8 L1312.8,557.2 L1313.2,556.7 L1313.8,555.7 L1315.1,561.6 L1315.8,563.1 L1316.8,561.8 L1318.0,564.5 L1318.8,563.6 L1319.8,557.7 L1321.0,556.7 L1321.8,554.2 L1322.8,549.8 L1323.5,545.0 L1324.8,549.6 L1325.9,550.9 L1326.8,549.7 L1327.8,556.2 L1328.8,554.8 L1329.8,556.7 L1330.7,560.6 L1331.8,563.2 L1332.8,560.1 L1333.7,563.5 L1334.8,562.4 L1335.8,555.9 L1336.6,556.7 L1337.8,555.2 L1338.8,550.7 L1339.5,550.9 L1340.8,544.3 L1341.5,545.0 L1342.8,550.6 L1343.4,548.9 L1343.8,547.4 L1344.8,534.9 L1345.4,533.3 L1345.6,523.9 L1346.8,498.9 L1347.2,488.8 L1347.9,451.7 L1349.1,360.6 L1349.8,418.3 L1350.3,465.4 L1350.8,465.6 L1351.5,459.5 L1353.0,479.0 L1353.8,458.5 L1354.4,445.9 L1354.8,456.6 L1355.7,471.2 L1356.8,474.2 L1357.7,473.2 L1358.8,474.0 L1359.3,471.2 L1359.8,469.0 L1360.8,477.1 L1361.8,501.1 L1362.2,514.1 L1362.8,509.8 L1364.1,492.7 L1364.8,488.3 L1365.8,494.5 L1366.7,491.7 L1368.0,484.9 L1368.8,484.2 L1369.6,480.6 L1371.0,492.7 L1371.8,490.3 L1372.8,497.1 L1373.9,497.5 L1374.8,495.6 L1375.8,496.6 L1376.8,502.4 L1377.8,499.7 L1378.8,504.7 L1379.8,498.1 L1380.7,499.5 L1381.8,498.3 L1382.8,506.3 L1383.6,504.4 L1384.8,505.2 L1385.8,512.6 L1386.6,511.2 L1387.8,518.3 L1388.5,518.0 L1389.8,518.6 L1390.9,517.0 L1391.8,519.3 L1392.8,523.3 L1393.4,529.7 L1393.8,532.5 L1394.8,531.9 L1395.3,535.6 L1395.8,535.7 L1396.8,537.4 L1397.3,541.4 L1397.8,542.5 L1398.7,551.6 L1399.8,553.6 L1400.8,550.9 L1401.8,553.9 L1403.1,553.5 L1403.8,551.9 L1404.8,556.2 L1405.8,554.3 L1407.0,557.4 L1407.8,562.4 L1409.0,563.3 L1410.0,573.0 L1410.8,573.7 L1411.9,569.1 L1412.8,570.8 L1413.8,576.0 L1414.3,575.9 L1414.8,573.1 L1415.8,573.2 L1416.8,569.1 L1417.8,565.6 L1418.8,568.2 L1419.3,565.2 L1419.8,565.7 L1420.3,568.1" fill="none" stroke="#0a0a0a" stroke-width="1.75" stroke-linejoin="round"/>
<line x1="804.5" y1="317.0" x2="804.5" y2="582.8" stroke="#0a0a0a" stroke-width="1.5"/>
<line x1="799.0" y1="577.8" x2="1420.2" y2="577.8" stroke="#0a0a0a" stroke-width="1.5"/>
<text x="789.0" y="584.1" font-size="17" fill="#111" text-anchor="end" font-weight="normal" textLength="7.8" lengthAdjust="spacingAndGlyphs" stroke="#111" stroke-width="0.4">0</text>
<line x1="799.0" y1="525.7" x2="804.5" y2="525.7" stroke="#0a0a0a" stroke-width="1.4"/>
<text x="789.0" y="532.0" font-size="17" fill="#111" text-anchor="end" font-weight="normal" textLength="15.6" lengthAdjust="spacingAndGlyphs" stroke="#111" stroke-width="0.4">10</text>
<line x1="799.0" y1="473.6" x2="804.5" y2="473.6" stroke="#0a0a0a" stroke-width="1.4"/>
<text x="789.0" y="479.9" font-size="17" fill="#111" text-anchor="end" font-weight="normal" textLength="15.6" lengthAdjust="spacingAndGlyphs" stroke="#111" stroke-width="0.4">20</text>
<line x1="799.0" y1="421.5" x2="804.5" y2="421.5" stroke="#0a0a0a" stroke-width="1.4"/>
<text x="789.0" y="427.8" font-size="17" fill="#111" text-anchor="end" font-weight="normal" textLength="15.6" lengthAdjust="spacingAndGlyphs" stroke="#111" stroke-width="0.4">30</text>
<line x1="799.0" y1="369.4" x2="804.5" y2="369.4" stroke="#0a0a0a" stroke-width="1.4"/>
<text x="789.0" y="375.7" font-size="17" fill="#111" text-anchor="end" font-weight="normal" textLength="15.6" lengthAdjust="spacingAndGlyphs" stroke="#111" stroke-width="0.4">40</text>
<line x1="799.0" y1="317.3" x2="804.5" y2="317.3" stroke="#0a0a0a" stroke-width="1.4"/>
<text x="789.0" y="323.6" font-size="17" fill="#111" text-anchor="end" font-weight="normal" textLength="15.6" lengthAdjust="spacingAndGlyphs" stroke="#111" stroke-width="0.4">50</text>
<text x="804.3" y="607.0" font-size="17" fill="#111" text-anchor="middle" font-weight="normal" textLength="44.4" lengthAdjust="spacingAndGlyphs" stroke="#111" stroke-width="0.4">May 11</text>
<line x1="865.8" y1="577.8" x2="865.8" y2="582.8" stroke="#0a0a0a" stroke-width="1.4"/>
<text x="865.8" y="607.0" font-size="17" fill="#111" text-anchor="middle" font-weight="normal" textLength="44.4" lengthAdjust="spacingAndGlyphs" stroke="#111" stroke-width="0.4">May 12</text>
<line x1="927.2" y1="577.8" x2="927.2" y2="582.8" stroke="#0a0a0a" stroke-width="1.4"/>
<text x="927.2" y="607.0" font-size="17" fill="#111" text-anchor="middle" font-weight="normal" textLength="44.4" lengthAdjust="spacingAndGlyphs" stroke="#111" stroke-width="0.4">May 13</text>
<line x1="988.7" y1="577.8" x2="988.7" y2="582.8" stroke="#0a0a0a" stroke-width="1.4"/>
<text x="988.7" y="607.0" font-size="17" fill="#111" text-anchor="middle" font-weight="normal" textLength="44.4" lengthAdjust="spacingAndGlyphs" stroke="#111" stroke-width="0.4">May 14</text>
<line x1="1050.2" y1="577.8" x2="1050.2" y2="582.8" stroke="#0a0a0a" stroke-width="1.4"/>
<text x="1050.2" y="607.0" font-size="17" fill="#111" text-anchor="middle" font-weight="normal" textLength="44.4" lengthAdjust="spacingAndGlyphs" stroke="#111" stroke-width="0.4">May 15</text>
<line x1="1111.7" y1="577.8" x2="1111.7" y2="582.8" stroke="#0a0a0a" stroke-width="1.4"/>
<text x="1111.7" y="607.0" font-size="17" fill="#111" text-anchor="middle" font-weight="normal" textLength="44.4" lengthAdjust="spacingAndGlyphs" stroke="#111" stroke-width="0.4">May 16</text>
<line x1="1173.1" y1="577.8" x2="1173.1" y2="582.8" stroke="#0a0a0a" stroke-width="1.4"/>
<text x="1173.1" y="607.0" font-size="17" fill="#111" text-anchor="middle" font-weight="normal" textLength="44.4" lengthAdjust="spacingAndGlyphs" stroke="#111" stroke-width="0.4">May 17</text>
<line x1="1234.6" y1="577.8" x2="1234.6" y2="582.8" stroke="#0a0a0a" stroke-width="1.4"/>
<text x="1234.6" y="607.0" font-size="17" fill="#111" text-anchor="middle" font-weight="normal" textLength="44.4" lengthAdjust="spacingAndGlyphs" stroke="#111" stroke-width="0.4">May 18</text>
<line x1="1296.1" y1="577.8" x2="1296.1" y2="582.8" stroke="#0a0a0a" stroke-width="1.4"/>
<text x="1296.1" y="607.0" font-size="17" fill="#111" text-anchor="middle" font-weight="normal" textLength="44.4" lengthAdjust="spacingAndGlyphs" stroke="#111" stroke-width="0.4">May 19</text>
<line x1="1357.5" y1="577.8" x2="1357.5" y2="582.8" stroke="#0a0a0a" stroke-width="1.4"/>
<text x="1357.5" y="607.0" font-size="17" fill="#111" text-anchor="middle" font-weight="normal" textLength="44.4" lengthAdjust="spacingAndGlyphs" stroke="#111" stroke-width="0.4">May 20</text>
<line x1="1419.0" y1="577.8" x2="1419.0" y2="582.8" stroke="#0a0a0a" stroke-width="1.4"/>
<text x="1419.0" y="607.0" font-size="17" fill="#111" text-anchor="middle" font-weight="normal" textLength="44.4" lengthAdjust="spacingAndGlyphs" stroke="#111" stroke-width="0.4">May 21</text>
<line x1="1256" y1="344.6" x2="1298" y2="344.6" stroke="#6b8fdc" stroke-width="2.2"/>
<text x="1302.8" y="350.0" font-size="17" fill="#111" text-anchor="start" font-weight="normal" textLength="39.4" lengthAdjust="spacingAndGlyphs" stroke="#111" stroke-width="0.4">3-year</text>
<line x1="1256" y1="378.8" x2="1298" y2="378.8" stroke="#111" stroke-width="2.0"/>
<text x="1302.8" y="384.4" font-size="17" fill="#111" text-anchor="start" font-weight="normal" textLength="39.4" lengthAdjust="spacingAndGlyphs" stroke="#111" stroke-width="0.4">5-year</text>
</g>
</g></svg></body></html>
